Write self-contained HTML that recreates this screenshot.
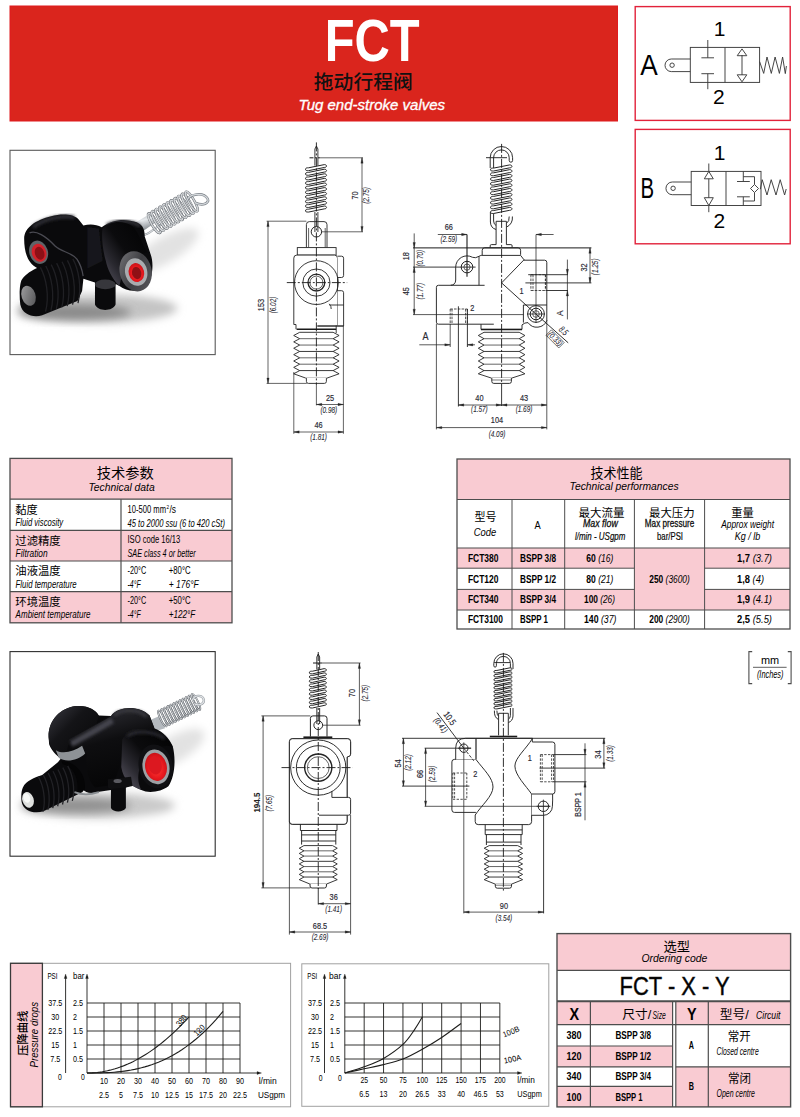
<!DOCTYPE html>
<html lang="zh"><head><meta charset="utf-8"><title>FCT - Tug end-stroke valves</title>
<style>
html,body{margin:0;padding:0;background:#fff}
body{width:800px;height:1117px;overflow:hidden;font-family:'Liberation Sans','Noto Sans CJK SC',sans-serif}
svg{display:block}
svg text{font-family:'Liberation Sans','Noto Sans CJK SC',sans-serif}
</style></head><body>
<svg width="800" height="1117" viewBox="0 0 800 1117">
<g id="p_header">
<rect x="10.00" y="6.00" width="607.50" height="115.00" fill="#da251d"/>
<rect x="10.00" y="6.00" width="607.50" height="115.00" fill="none" stroke="#e01a1f" stroke-width="1"/>
<text x="372.20" y="61.20" font-size="59.5" text-anchor="middle" font-weight="bold" fill="#ffffff" textLength="95.00" lengthAdjust="spacingAndGlyphs">FCT</text>
<text x="363.30" y="88.50" font-size="19.2" text-anchor="middle" font-weight="500" fill="#111" textLength="99.00" lengthAdjust="spacingAndGlyphs">拖动行程阀</text>
<text x="298.60" y="110.00" font-size="15.3" font-style="italic" fill="#ffffff" textLength="146.50" lengthAdjust="spacingAndGlyphs" stroke="#fff" stroke-width="0.35">Tug end-stroke valves</text>
<rect x="635.20" y="6.60" width="155.00" height="113.80" fill="#fff" stroke="#e2223a" stroke-width="1.4"/>
<rect x="635.20" y="129.40" width="155.00" height="114.40" fill="#fff" stroke="#e2223a" stroke-width="1.4"/>
<text x="640.30" y="74.80" font-size="29" textLength="17.50" lengthAdjust="spacingAndGlyphs">A</text>
<text x="719.50" y="35.80" font-size="21" text-anchor="middle">1</text>
<text x="718.80" y="104.20" font-size="21" text-anchor="middle">2</text>
<rect x="690.30" y="47.40" width="69.30" height="35.00" fill="none" stroke="#3c3c3c" stroke-width="0.95"/>
<line x1="725.00" y1="47.40" x2="725.00" y2="82.40" stroke="#3c3c3c" stroke-width="0.95"/>
<line x1="707.80" y1="40.00" x2="707.80" y2="57.80" stroke="#3c3c3c" stroke-width="0.95"/>
<line x1="701.40" y1="57.80" x2="714.00" y2="57.80" stroke="#3c3c3c" stroke-width="0.95"/>
<line x1="707.80" y1="73.70" x2="707.80" y2="89.20" stroke="#3c3c3c" stroke-width="0.95"/>
<line x1="701.40" y1="73.70" x2="714.00" y2="73.70" stroke="#3c3c3c" stroke-width="0.95"/>
<line x1="742.00" y1="55.00" x2="742.00" y2="75.00" stroke="#3c3c3c" stroke-width="0.95"/>
<path d="M742 48.9 L746.8 55.7 L737.2 55.7 Z" fill="none" stroke="#3c3c3c" stroke-width="0.95"/>
<path d="M742 81.8 L746.8 74.8 L737.2 74.8 Z" fill="none" stroke="#3c3c3c" stroke-width="0.95"/>
<path d="M759.6 61.6 L763.7 73.4 L767 57 L771.3 73.4 L775.1 57 L779.4 73.4 L782.6 57 L785.3 73.6 L786.4 66" fill="none" stroke="#3c3c3c" stroke-width="0.95"/>
<path d="M690.3 59 H671.3 A6.3 6.3 0 0 0 671.3 71.6 H690.3" fill="none" stroke="#3c3c3c" stroke-width="0.95"/>
<circle cx="672.10" cy="65.20" r="2.20" fill="none" stroke="#3c3c3c" stroke-width="0.95"/>
<text x="640.60" y="198.40" font-size="29" textLength="13.60" lengthAdjust="spacingAndGlyphs">B</text>
<text x="719.70" y="159.60" font-size="21" text-anchor="middle">1</text>
<text x="719.30" y="227.90" font-size="21" text-anchor="middle">2</text>
<rect x="691.20" y="171.40" width="69.80" height="34.10" fill="none" stroke="#3c3c3c" stroke-width="0.95"/>
<line x1="726.00" y1="171.40" x2="726.00" y2="205.50" stroke="#3c3c3c" stroke-width="0.95"/>
<line x1="708.80" y1="163.50" x2="708.80" y2="212.20" stroke="#3c3c3c" stroke-width="0.95"/>
<path d="M708.8 171.4 L713.3 178.8 L704.3 178.8 Z" fill="#fff" stroke="#3c3c3c" stroke-width="0.95"/>
<path d="M708.8 205.5 L713.3 197.7 L704.3 197.7 Z" fill="#fff" stroke="#3c3c3c" stroke-width="0.95"/>
<line x1="743.30" y1="171.40" x2="743.30" y2="181.50" stroke="#3c3c3c" stroke-width="0.95"/>
<line x1="737.00" y1="181.50" x2="749.80" y2="181.50" stroke="#3c3c3c" stroke-width="0.95"/>
<line x1="743.30" y1="196.80" x2="743.30" y2="205.50" stroke="#3c3c3c" stroke-width="0.95"/>
<line x1="737.00" y1="196.80" x2="749.80" y2="196.80" stroke="#3c3c3c" stroke-width="0.95"/>
<path d="M743.3 176.7 H754.5 V184.5" fill="none" stroke="#3c3c3c" stroke-width="0.95"/>
<path d="M743.3 201 H754.5 V192.5" fill="none" stroke="#3c3c3c" stroke-width="0.95"/>
<path d="M754.5 184.5 L758.5 188.5 L754.5 192.5 L750.5 188.5 Z" fill="none" stroke="#3c3c3c" stroke-width="0.95"/>
<path d="M760.3 189.3 L762.2 179.7 L767 195 L771.2 179.7 L776 195 L780.2 179.7 L784.6 195 L786.2 189" fill="none" stroke="#3c3c3c" stroke-width="0.95"/>
<path d="M691.2 182 H672.3 A6.3 6.3 0 0 0 672.3 194.7 H691.2" fill="none" stroke="#3c3c3c" stroke-width="0.95"/>
<circle cx="673.10" cy="188.30" r="2.20" fill="none" stroke="#3c3c3c" stroke-width="0.95"/>
</g>
<g id="p_tables">
<rect x="10.00" y="458.40" width="222.00" height="164.40" fill="#fff"/>
<rect x="10.00" y="458.40" width="222.00" height="40.80" fill="#f9cbd2"/>
<rect x="10.00" y="530.30" width="222.00" height="30.70" fill="#f9cbd2"/>
<rect x="10.00" y="591.60" width="222.00" height="31.20" fill="#f9cbd2"/>
<line x1="10.00" y1="499.20" x2="232.00" y2="499.20" stroke="#4d4d4d" stroke-width="1.2"/>
<line x1="10.00" y1="530.30" x2="232.00" y2="530.30" stroke="#4d4d4d" stroke-width="1.2"/>
<line x1="10.00" y1="561.00" x2="232.00" y2="561.00" stroke="#4d4d4d" stroke-width="1.2"/>
<line x1="10.00" y1="591.60" x2="232.00" y2="591.60" stroke="#4d4d4d" stroke-width="1.2"/>
<line x1="121.00" y1="499.20" x2="121.00" y2="622.80" stroke="#4d4d4d" stroke-width="1.2"/>
<rect x="10.00" y="458.40" width="222.00" height="164.40" fill="none" stroke="#4d4d4d" stroke-width="1.3"/>
<text x="125.30" y="478.30" font-size="14" text-anchor="middle" font-weight="400" textLength="57.00" lengthAdjust="spacingAndGlyphs">技术参数</text>
<text x="88.40" y="490.60" font-size="11" font-style="italic" textLength="66.30" lengthAdjust="spacingAndGlyphs">Technical data</text>
<text x="15.30" y="513.60" font-size="11.5" font-weight="400" textLength="22.40" lengthAdjust="spacingAndGlyphs">黏度</text>
<text x="15.60" y="526.30" font-size="10" font-style="italic" textLength="47.60" lengthAdjust="spacingAndGlyphs">Fluid viscosity</text>
<text x="15.30" y="544.60" font-size="11.5" font-weight="400" textLength="45.40" lengthAdjust="spacingAndGlyphs">过滤精度</text>
<text x="15.60" y="557.20" font-size="10" font-style="italic" textLength="32.00" lengthAdjust="spacingAndGlyphs">Filtration</text>
<text x="15.30" y="575.00" font-size="11.5" font-weight="400" textLength="45.40" lengthAdjust="spacingAndGlyphs">油液温度</text>
<text x="15.60" y="587.70" font-size="10" font-style="italic" textLength="61.00" lengthAdjust="spacingAndGlyphs">Fluid temperature</text>
<text x="15.30" y="605.60" font-size="11.5" font-weight="400" textLength="45.40" lengthAdjust="spacingAndGlyphs">环境温度</text>
<text x="15.60" y="617.80" font-size="10" font-style="italic" textLength="75.00" lengthAdjust="spacingAndGlyphs">Ambient temperature</text>
<text x="127.50" y="512.80" font-size="10" textLength="38.50" lengthAdjust="spacingAndGlyphs">10-500 mm</text>
<text x="166.40" y="508.80" font-size="6" textLength="2.60" lengthAdjust="spacingAndGlyphs">2</text>
<text x="169.40" y="512.80" font-size="10" textLength="6.60" lengthAdjust="spacingAndGlyphs">/s</text>
<text x="127.50" y="526.80" font-size="10" font-style="italic" textLength="97.50" lengthAdjust="spacingAndGlyphs">45 to 2000 ssu (6 to 420 cSt)</text>
<text x="127.50" y="543.30" font-size="10" textLength="52.80" lengthAdjust="spacingAndGlyphs">ISO code 16/13</text>
<text x="127.50" y="557.20" font-size="10" font-style="italic" textLength="68.20" lengthAdjust="spacingAndGlyphs">SAE class 4 or better</text>
<text x="127.50" y="573.80" font-size="10" textLength="18.70" lengthAdjust="spacingAndGlyphs">-20°C</text>
<text x="168.80" y="573.80" font-size="10" textLength="21.80" lengthAdjust="spacingAndGlyphs">+80°C</text>
<text x="127.50" y="587.80" font-size="10" font-style="italic" textLength="13.20" lengthAdjust="spacingAndGlyphs">-4°F</text>
<text x="168.80" y="587.80" font-size="10" font-style="italic" textLength="30.00" lengthAdjust="spacingAndGlyphs">+ 176°F</text>
<text x="127.50" y="604.30" font-size="10" textLength="18.70" lengthAdjust="spacingAndGlyphs">-20°C</text>
<text x="168.80" y="604.30" font-size="10" textLength="21.80" lengthAdjust="spacingAndGlyphs">+50°C</text>
<text x="127.50" y="617.80" font-size="10" font-style="italic" textLength="13.20" lengthAdjust="spacingAndGlyphs">-4°F</text>
<text x="168.80" y="617.80" font-size="10" font-style="italic" textLength="26.50" lengthAdjust="spacingAndGlyphs">+122°F</text>
<rect x="457.00" y="459.00" width="333.00" height="170.00" fill="#fff"/>
<rect x="457.00" y="459.00" width="333.00" height="40.50" fill="#f9cbd2"/>
<rect x="457.00" y="548.00" width="177.40" height="20.20" fill="#f9cbd2"/>
<rect x="704.60" y="548.00" width="85.40" height="20.20" fill="#f9cbd2"/>
<rect x="457.00" y="589.40" width="177.40" height="20.60" fill="#f9cbd2"/>
<rect x="704.60" y="589.40" width="85.40" height="20.60" fill="#f9cbd2"/>
<rect x="634.40" y="548.00" width="70.20" height="62.00" fill="#f9cbd2"/>
<line x1="457.00" y1="499.50" x2="790.00" y2="499.50" stroke="#4d4d4d" stroke-width="1.2"/>
<line x1="457.00" y1="548.00" x2="790.00" y2="548.00" stroke="#4d4d4d" stroke-width="1.2"/>
<line x1="457.00" y1="568.20" x2="634.40" y2="568.20" stroke="#4d4d4d" stroke-width="1.0"/>
<line x1="704.60" y1="568.20" x2="790.00" y2="568.20" stroke="#4d4d4d" stroke-width="1.0"/>
<line x1="457.00" y1="589.40" x2="634.40" y2="589.40" stroke="#4d4d4d" stroke-width="1.0"/>
<line x1="704.60" y1="589.40" x2="790.00" y2="589.40" stroke="#4d4d4d" stroke-width="1.0"/>
<line x1="457.00" y1="610.00" x2="790.00" y2="610.00" stroke="#4d4d4d" stroke-width="1.0"/>
<line x1="512.00" y1="499.50" x2="512.00" y2="629.00" stroke="#4d4d4d" stroke-width="1.0"/>
<line x1="564.70" y1="499.50" x2="564.70" y2="629.00" stroke="#4d4d4d" stroke-width="1.0"/>
<line x1="634.40" y1="499.50" x2="634.40" y2="629.00" stroke="#4d4d4d" stroke-width="1.0"/>
<line x1="704.60" y1="499.50" x2="704.60" y2="629.00" stroke="#4d4d4d" stroke-width="1.0"/>
<rect x="457.00" y="459.00" width="333.00" height="170.00" fill="none" stroke="#4d4d4d" stroke-width="1.3"/>
<text x="616.60" y="477.60" font-size="13.5" text-anchor="middle" font-weight="400" textLength="52.00" lengthAdjust="spacingAndGlyphs">技术性能</text>
<text x="569.60" y="489.80" font-size="11" font-style="italic" textLength="109.00" lengthAdjust="spacingAndGlyphs">Technical performances</text>
<text x="485.50" y="520.80" font-size="11" text-anchor="middle" font-weight="400" textLength="22.00" lengthAdjust="spacingAndGlyphs">型号</text>
<text x="473.80" y="535.50" font-size="11" font-style="italic" textLength="22.50" lengthAdjust="spacingAndGlyphs">Code</text>
<text x="537.70" y="528.80" font-size="11" text-anchor="middle" textLength="6.20" lengthAdjust="spacingAndGlyphs">A</text>
<text x="601.50" y="517.30" font-size="11.5" text-anchor="middle" font-weight="400" textLength="46.00" lengthAdjust="spacingAndGlyphs">最大流量</text>
<text x="583.00" y="527.20" font-size="11" font-style="italic" textLength="34.80" lengthAdjust="spacingAndGlyphs" stroke="#1d1d1b" stroke-width="0.3">Max flow</text>
<text x="575.00" y="540.40" font-size="11" font-style="italic" textLength="50.40" lengthAdjust="spacingAndGlyphs" stroke="#1d1d1b" stroke-width="0.2">l/min - USgpm</text>
<text x="671.80" y="517.30" font-size="11.5" text-anchor="middle" font-weight="400" textLength="45.50" lengthAdjust="spacingAndGlyphs">最大压力</text>
<text x="644.80" y="527.20" font-size="11" textLength="49.50" lengthAdjust="spacingAndGlyphs" stroke="#1d1d1b" stroke-width="0.3">Max pressure</text>
<text x="657.00" y="540.40" font-size="11" textLength="26.00" lengthAdjust="spacingAndGlyphs" stroke="#1d1d1b" stroke-width="0.2">bar/PSI</text>
<text x="742.60" y="516.60" font-size="11.5" text-anchor="middle" font-weight="400" textLength="22.50" lengthAdjust="spacingAndGlyphs">重量</text>
<text x="721.30" y="527.60" font-size="10" font-style="italic" textLength="52.70" lengthAdjust="spacingAndGlyphs">Approx weight</text>
<text x="734.80" y="540.20" font-size="10" font-style="italic" textLength="25.60" lengthAdjust="spacingAndGlyphs">Kg / lb</text>
<text x="467.90" y="561.80" font-size="10" font-weight="bold" textLength="30.60" lengthAdjust="spacingAndGlyphs">FCT380</text>
<text x="520.00" y="561.80" font-size="10" font-weight="bold" textLength="36.00" lengthAdjust="spacingAndGlyphs">BSPP 3/8</text>
<text x="586.3" y="561.8" font-size="10" textLength="27" lengthAdjust="spacingAndGlyphs"><tspan font-weight="bold">60</tspan><tspan font-style="italic"> (16)</tspan></text>
<text x="737" y="561.8" font-size="10" textLength="35" lengthAdjust="spacingAndGlyphs"><tspan font-weight="bold">1,7</tspan><tspan font-style="italic"> (3.7)</tspan></text>
<text x="467.90" y="582.60" font-size="10" font-weight="bold" textLength="30.60" lengthAdjust="spacingAndGlyphs">FCT120</text>
<text x="520.00" y="582.60" font-size="10" font-weight="bold" textLength="36.00" lengthAdjust="spacingAndGlyphs">BSPP 1/2</text>
<text x="586.3" y="582.6" font-size="10" textLength="27" lengthAdjust="spacingAndGlyphs"><tspan font-weight="bold">80</tspan><tspan font-style="italic"> (21)</tspan></text>
<text x="737" y="582.6" font-size="10" textLength="27" lengthAdjust="spacingAndGlyphs"><tspan font-weight="bold">1,8</tspan><tspan font-style="italic"> (4)</tspan></text>
<text x="467.90" y="603.40" font-size="10" font-weight="bold" textLength="30.60" lengthAdjust="spacingAndGlyphs">FCT340</text>
<text x="520.00" y="603.40" font-size="10" font-weight="bold" textLength="36.00" lengthAdjust="spacingAndGlyphs">BSPP 3/4</text>
<text x="584" y="603.4" font-size="10" textLength="31" lengthAdjust="spacingAndGlyphs"><tspan font-weight="bold">100</tspan><tspan font-style="italic"> (26)</tspan></text>
<text x="737" y="603.4" font-size="10" textLength="35" lengthAdjust="spacingAndGlyphs"><tspan font-weight="bold">1,9</tspan><tspan font-style="italic"> (4.1)</tspan></text>
<text x="467.90" y="623.20" font-size="10" font-weight="bold" textLength="35.10" lengthAdjust="spacingAndGlyphs">FCT3100</text>
<text x="520.00" y="623.20" font-size="10" font-weight="bold" textLength="28.00" lengthAdjust="spacingAndGlyphs">BSPP 1</text>
<text x="584" y="623.2" font-size="10" textLength="32.4" lengthAdjust="spacingAndGlyphs"><tspan font-weight="bold">140</tspan><tspan font-style="italic"> (37)</tspan></text>
<text x="737" y="623.2" font-size="10" textLength="35" lengthAdjust="spacingAndGlyphs"><tspan font-weight="bold">2,5</tspan><tspan font-style="italic"> (5.5)</tspan></text>
<text x="649.3" y="582.6" font-size="10" textLength="40.5" lengthAdjust="spacingAndGlyphs"><tspan font-weight="bold">250</tspan><tspan font-style="italic"> (3600)</tspan></text>
<text x="649.3" y="623.2" font-size="10" textLength="40.5" lengthAdjust="spacingAndGlyphs"><tspan font-weight="bold">200</tspan><tspan font-style="italic"> (2900)</tspan></text>
<path d="M752.2 651.6 H748.9 V683.6 H752.2" fill="none" stroke="#4d4d4d" stroke-width="1.1"/>
<path d="M787.8 651.6 H791.1 V683.6 H787.8" fill="none" stroke="#4d4d4d" stroke-width="1.1"/>
<line x1="753.00" y1="667.30" x2="786.60" y2="667.30" stroke="#4d4d4d" stroke-width="0.9"/>
<text x="760.90" y="664.00" font-size="10.5" textLength="18.20" lengthAdjust="spacingAndGlyphs">mm</text>
<text x="756.90" y="678.00" font-size="10" font-style="italic" textLength="26.60" lengthAdjust="spacingAndGlyphs">(Inches)</text>
<rect x="557.00" y="933.60" width="233.60" height="173.30" fill="#fff"/>
<rect x="557.00" y="933.60" width="233.60" height="36.80" fill="#f9cbd2"/>
<rect x="557.00" y="1001.20" width="233.60" height="23.40" fill="#f9cbd2"/>
<rect x="557.00" y="1046.00" width="115.60" height="20.90" fill="#f9cbd2"/>
<rect x="557.00" y="1086.40" width="115.60" height="20.50" fill="#f9cbd2"/>
<rect x="675.80" y="1066.90" width="114.80" height="40.00" fill="#f9cbd2"/>
<rect x="672.60" y="1001.20" width="3.20" height="105.70" fill="#fff"/>
<line x1="557.00" y1="970.40" x2="790.60" y2="970.40" stroke="#4d4d4d" stroke-width="1.2"/>
<line x1="557.00" y1="1001.20" x2="790.60" y2="1001.20" stroke="#4d4d4d" stroke-width="2"/>
<line x1="557.00" y1="1024.60" x2="790.60" y2="1024.60" stroke="#4d4d4d" stroke-width="1.2"/>
<line x1="557.00" y1="1046.00" x2="672.60" y2="1046.00" stroke="#4d4d4d" stroke-width="1.2"/>
<line x1="557.00" y1="1066.90" x2="672.60" y2="1066.90" stroke="#4d4d4d" stroke-width="1.2"/>
<line x1="557.00" y1="1086.40" x2="672.60" y2="1086.40" stroke="#4d4d4d" stroke-width="1.2"/>
<line x1="675.80" y1="1066.90" x2="790.60" y2="1066.90" stroke="#4d4d4d" stroke-width="1.2"/>
<line x1="590.40" y1="1001.20" x2="590.40" y2="1106.90" stroke="#4d4d4d" stroke-width="1.2"/>
<line x1="672.60" y1="1001.20" x2="672.60" y2="1106.90" stroke="#4d4d4d" stroke-width="1.2"/>
<line x1="675.80" y1="1001.20" x2="675.80" y2="1106.90" stroke="#4d4d4d" stroke-width="1.2"/>
<line x1="708.30" y1="1001.20" x2="708.30" y2="1106.90" stroke="#4d4d4d" stroke-width="1.2"/>
<rect x="557.00" y="933.60" width="233.60" height="173.30" fill="none" stroke="#4d4d4d" stroke-width="1.4"/>
<text x="676.80" y="951.00" font-size="13" text-anchor="middle" font-weight="400" textLength="26.50" lengthAdjust="spacingAndGlyphs">选型</text>
<text x="641.40" y="962.30" font-size="11" font-style="italic" textLength="66.00" lengthAdjust="spacingAndGlyphs">Ordering code</text>
<text x="619.60" y="995.40" font-size="26.4" textLength="110.00" lengthAdjust="spacingAndGlyphs" stroke="#1d1d1b" stroke-width="0.5">FCT - X - Y</text>
<text x="574.40" y="1020.20" font-size="16" text-anchor="middle" font-weight="bold" textLength="9.60" lengthAdjust="spacingAndGlyphs">X</text>
<text x="691.80" y="1020.20" font-size="16" text-anchor="middle" font-weight="bold" textLength="9.60" lengthAdjust="spacingAndGlyphs">Y</text>
<text x="622.30" y="1018.80" font-size="12" font-weight="400" textLength="29.00" lengthAdjust="spacingAndGlyphs">尺寸/</text>
<text x="652.60" y="1018.60" font-size="11" font-style="italic" textLength="13.20" lengthAdjust="spacingAndGlyphs">Size</text>
<text x="719.70" y="1018.80" font-size="12" font-weight="400" textLength="29.00" lengthAdjust="spacingAndGlyphs">型号/</text>
<text x="756.00" y="1018.60" font-size="11" font-style="italic" textLength="24.50" lengthAdjust="spacingAndGlyphs">Circuit</text>
<text x="566.60" y="1039.00" font-size="10.5" font-weight="bold" textLength="15.00" lengthAdjust="spacingAndGlyphs">380</text>
<text x="615.40" y="1039.00" font-size="10.5" font-weight="bold" textLength="35.70" lengthAdjust="spacingAndGlyphs">BSPP 3/8</text>
<text x="566.60" y="1059.60" font-size="10.5" font-weight="bold" textLength="15.00" lengthAdjust="spacingAndGlyphs">120</text>
<text x="615.40" y="1059.60" font-size="10.5" font-weight="bold" textLength="35.70" lengthAdjust="spacingAndGlyphs">BSPP 1/2</text>
<text x="566.60" y="1079.80" font-size="10.5" font-weight="bold" textLength="15.00" lengthAdjust="spacingAndGlyphs">340</text>
<text x="615.40" y="1079.80" font-size="10.5" font-weight="bold" textLength="35.70" lengthAdjust="spacingAndGlyphs">BSPP 3/4</text>
<text x="566.60" y="1100.60" font-size="10.5" font-weight="bold" textLength="15.00" lengthAdjust="spacingAndGlyphs">100</text>
<text x="615.40" y="1100.60" font-size="10.5" font-weight="bold" textLength="27.00" lengthAdjust="spacingAndGlyphs">BSPP 1</text>
<text x="691.40" y="1048.80" font-size="10.5" text-anchor="middle" font-weight="bold" textLength="5.20" lengthAdjust="spacingAndGlyphs">A</text>
<text x="691.40" y="1090.20" font-size="10.5" text-anchor="middle" font-weight="bold" textLength="5.20" lengthAdjust="spacingAndGlyphs">B</text>
<text x="739.20" y="1040.60" font-size="12" text-anchor="middle" font-weight="400" textLength="23.00" lengthAdjust="spacingAndGlyphs">常开</text>
<text x="716.50" y="1055.00" font-size="11.5" font-style="italic" textLength="42.20" lengthAdjust="spacingAndGlyphs">Closed centre</text>
<text x="739.60" y="1082.60" font-size="12" text-anchor="middle" font-weight="400" textLength="23.00" lengthAdjust="spacingAndGlyphs">常闭</text>
<text x="716.50" y="1097.00" font-size="11.5" font-style="italic" textLength="38.50" lengthAdjust="spacingAndGlyphs">Open centre</text>
</g>
<g id="p_graphs">
<rect x="10.50" y="963.30" width="280.10" height="143.50" fill="#fff"/>
<rect x="10.50" y="963.30" width="31.90" height="143.50" fill="#f9cbd2"/>
<rect x="10.50" y="963.30" width="280.10" height="143.50" fill="none" stroke="#a0a0a0" stroke-width="1.0"/>
<rect x="10.50" y="963.30" width="31.90" height="143.50" fill="none" stroke="#3a3a3a" stroke-width="1.3"/>
<text x="26.80" y="1033.20" font-size="11.5" text-anchor="middle" font-weight="500" textLength="45.00" lengthAdjust="spacingAndGlyphs" transform="rotate(-90 26.80 1033.20)">压降曲线</text>
<text x="38.00" y="1034.70" font-size="11" text-anchor="middle" font-style="italic" textLength="65.50" lengthAdjust="spacingAndGlyphs" transform="rotate(-90 38.00 1034.70)">Pressure drops</text>
<line x1="87.00" y1="1003.00" x2="87.00" y2="1073.00" stroke="#1d1d1b" stroke-width="0.9"/>
<line x1="104.00" y1="1003.00" x2="104.00" y2="1073.00" stroke="#1d1d1b" stroke-width="0.9"/>
<line x1="121.00" y1="1003.00" x2="121.00" y2="1073.00" stroke="#1d1d1b" stroke-width="0.9"/>
<line x1="138.00" y1="1003.00" x2="138.00" y2="1073.00" stroke="#1d1d1b" stroke-width="0.9"/>
<line x1="155.00" y1="1003.00" x2="155.00" y2="1073.00" stroke="#1d1d1b" stroke-width="0.9"/>
<line x1="172.00" y1="1003.00" x2="172.00" y2="1073.00" stroke="#1d1d1b" stroke-width="0.9"/>
<line x1="189.00" y1="1003.00" x2="189.00" y2="1073.00" stroke="#1d1d1b" stroke-width="0.9"/>
<line x1="206.00" y1="1003.00" x2="206.00" y2="1073.00" stroke="#1d1d1b" stroke-width="0.9"/>
<line x1="223.00" y1="1003.00" x2="223.00" y2="1073.00" stroke="#1d1d1b" stroke-width="0.9"/>
<line x1="240.00" y1="1003.00" x2="240.00" y2="1073.00" stroke="#1d1d1b" stroke-width="0.9"/>
<line x1="87.00" y1="1073.00" x2="240.00" y2="1073.00" stroke="#1d1d1b" stroke-width="0.9"/>
<line x1="87.00" y1="1059.00" x2="240.00" y2="1059.00" stroke="#1d1d1b" stroke-width="0.9"/>
<line x1="87.00" y1="1045.00" x2="240.00" y2="1045.00" stroke="#1d1d1b" stroke-width="0.9"/>
<line x1="87.00" y1="1031.00" x2="240.00" y2="1031.00" stroke="#1d1d1b" stroke-width="0.9"/>
<line x1="87.00" y1="1017.00" x2="240.00" y2="1017.00" stroke="#1d1d1b" stroke-width="0.9"/>
<line x1="87.00" y1="1003.00" x2="240.00" y2="1003.00" stroke="#1d1d1b" stroke-width="0.9"/>
<line x1="65.60" y1="976.00" x2="65.60" y2="1073.00" stroke="#1d1d1b" stroke-width="0.9"/>
<path d="M65.60 974.00 L64.20 978.50 L67.00 978.50 Z" fill="#1d1d1b" stroke="#1d1d1b" stroke-width="0.3"/>
<line x1="87.00" y1="976.00" x2="87.00" y2="1003.00" stroke="#1d1d1b" stroke-width="0.9"/>
<path d="M87.00 974.00 L85.60 978.50 L88.40 978.50 Z" fill="#1d1d1b" stroke="#1d1d1b" stroke-width="0.3"/>
<line x1="240.00" y1="1073.00" x2="259.00" y2="1073.00" stroke="#1d1d1b" stroke-width="0.9"/>
<path d="M261.50 1073.00 L257.00 1071.60 L257.00 1074.40 Z" fill="#1d1d1b" stroke="#1d1d1b" stroke-width="0.3"/>
<text x="47.40" y="978.80" font-size="9" textLength="10.20" lengthAdjust="spacingAndGlyphs">PSI</text>
<text x="73.00" y="978.80" font-size="9" textLength="11.40" lengthAdjust="spacingAndGlyphs">bar</text>
<text x="55.30" y="1062.20" font-size="9" text-anchor="middle" textLength="10.05" lengthAdjust="spacingAndGlyphs">7.5</text>
<text x="73.00" y="1062.20" font-size="9" textLength="10.05" lengthAdjust="spacingAndGlyphs">0.5</text>
<text x="55.30" y="1048.20" font-size="9" text-anchor="middle" textLength="7.90" lengthAdjust="spacingAndGlyphs">15</text>
<text x="73.00" y="1048.20" font-size="9" textLength="3.95" lengthAdjust="spacingAndGlyphs">1</text>
<text x="55.30" y="1034.20" font-size="9" text-anchor="middle" textLength="14.00" lengthAdjust="spacingAndGlyphs">22.5</text>
<text x="73.00" y="1034.20" font-size="9" textLength="10.05" lengthAdjust="spacingAndGlyphs">1.5</text>
<text x="55.30" y="1020.20" font-size="9" text-anchor="middle" textLength="7.90" lengthAdjust="spacingAndGlyphs">30</text>
<text x="73.00" y="1020.20" font-size="9" textLength="3.95" lengthAdjust="spacingAndGlyphs">2</text>
<text x="55.30" y="1006.20" font-size="9" text-anchor="middle" textLength="14.00" lengthAdjust="spacingAndGlyphs">37.5</text>
<text x="73.00" y="1006.20" font-size="9" textLength="10.05" lengthAdjust="spacingAndGlyphs">2.5</text>
<text x="60.00" y="1080.00" font-size="9" text-anchor="middle" textLength="3.80" lengthAdjust="spacingAndGlyphs">0</text>
<text x="83.00" y="1080.00" font-size="9" text-anchor="middle" textLength="3.80" lengthAdjust="spacingAndGlyphs">0</text>
<text x="104.00" y="1083.80" font-size="9" text-anchor="middle" textLength="8.00" lengthAdjust="spacingAndGlyphs">10</text>
<text x="104.00" y="1097.60" font-size="9" text-anchor="middle" textLength="10.05" lengthAdjust="spacingAndGlyphs">2.5</text>
<text x="121.00" y="1083.80" font-size="9" text-anchor="middle" textLength="8.00" lengthAdjust="spacingAndGlyphs">20</text>
<text x="121.00" y="1097.60" font-size="9" text-anchor="middle" textLength="3.95" lengthAdjust="spacingAndGlyphs">5</text>
<text x="138.00" y="1083.80" font-size="9" text-anchor="middle" textLength="8.00" lengthAdjust="spacingAndGlyphs">30</text>
<text x="138.00" y="1097.60" font-size="9" text-anchor="middle" textLength="10.05" lengthAdjust="spacingAndGlyphs">7.5</text>
<text x="155.00" y="1083.80" font-size="9" text-anchor="middle" textLength="8.00" lengthAdjust="spacingAndGlyphs">40</text>
<text x="155.00" y="1097.60" font-size="9" text-anchor="middle" textLength="7.90" lengthAdjust="spacingAndGlyphs">10</text>
<text x="172.00" y="1083.80" font-size="9" text-anchor="middle" textLength="8.00" lengthAdjust="spacingAndGlyphs">50</text>
<text x="172.00" y="1097.60" font-size="9" text-anchor="middle" textLength="14.00" lengthAdjust="spacingAndGlyphs">12.5</text>
<text x="189.00" y="1083.80" font-size="9" text-anchor="middle" textLength="8.00" lengthAdjust="spacingAndGlyphs">60</text>
<text x="189.00" y="1097.60" font-size="9" text-anchor="middle" textLength="7.90" lengthAdjust="spacingAndGlyphs">15</text>
<text x="206.00" y="1083.80" font-size="9" text-anchor="middle" textLength="8.00" lengthAdjust="spacingAndGlyphs">70</text>
<text x="206.00" y="1097.60" font-size="9" text-anchor="middle" textLength="14.00" lengthAdjust="spacingAndGlyphs">17.5</text>
<text x="223.00" y="1083.80" font-size="9" text-anchor="middle" textLength="8.00" lengthAdjust="spacingAndGlyphs">80</text>
<text x="223.00" y="1097.60" font-size="9" text-anchor="middle" textLength="7.90" lengthAdjust="spacingAndGlyphs">20</text>
<text x="240.00" y="1083.80" font-size="9" text-anchor="middle" textLength="8.00" lengthAdjust="spacingAndGlyphs">90</text>
<text x="240.00" y="1097.60" font-size="9" text-anchor="middle" textLength="14.00" lengthAdjust="spacingAndGlyphs">22.5</text>
<text x="258.70" y="1083.80" font-size="9.5" textLength="18.00" lengthAdjust="spacingAndGlyphs">l/min</text>
<text x="258.00" y="1097.60" font-size="9.5" textLength="27.00" lengthAdjust="spacingAndGlyphs">USgpm</text>
<path d="M87.00 1073.00 L89.55 1072.96 L92.10 1072.86 L94.65 1072.68 L97.20 1072.44 L99.75 1072.12 L102.30 1071.74 L104.85 1071.29 L107.40 1070.76 L109.95 1070.16 L112.50 1069.50 L115.05 1068.77 L117.60 1067.96 L120.15 1067.09 L122.70 1066.14 L125.25 1065.12 L127.80 1064.04 L130.35 1062.88 L132.90 1061.66 L135.45 1060.37 L138.00 1059.00 L140.55 1057.57 L143.10 1056.06 L145.65 1054.48 L148.20 1052.84 L150.75 1051.12 L153.30 1049.34 L155.85 1047.48 L158.40 1045.56 L160.95 1043.57 L163.50 1041.50 L166.05 1039.37 L168.60 1037.16 L171.15 1034.88 L173.70 1032.54 L176.25 1030.12 L178.80 1027.64 L181.35 1025.09 L183.90 1022.46 L186.45 1019.76 L189.00 1017.00" fill="none" stroke="#1d1d1b" stroke-width="1.1"/>
<path d="M87.00 1073.00 L90.40 1073.00 L93.80 1072.98 L97.20 1072.94 L100.60 1072.88 L104.00 1072.78 L107.40 1072.63 L110.80 1072.44 L114.20 1072.20 L117.60 1071.90 L121.00 1071.54 L124.40 1071.11 L127.80 1070.61 L131.20 1070.04 L134.60 1069.38 L138.00 1068.64 L141.40 1067.81 L144.80 1066.89 L148.20 1065.87 L151.60 1064.75 L155.00 1063.52 L158.40 1062.19 L161.80 1060.74 L165.20 1059.17 L168.60 1057.49 L172.00 1055.68 L175.40 1053.75 L178.80 1051.68 L182.20 1049.48 L185.60 1047.15 L189.00 1044.67 L192.40 1042.05 L195.80 1039.28 L199.20 1036.36 L202.60 1033.28 L206.00 1030.05 L209.40 1026.65 L212.80 1023.09 L216.20 1019.37 L219.60 1015.47 L223.00 1011.40" fill="none" stroke="#1d1d1b" stroke-width="1.1"/>
<text x="180.00" y="1027.00" font-size="8.5" textLength="12.00" lengthAdjust="spacingAndGlyphs" transform="rotate(-52 180.00 1027.00)">380</text>
<text x="197.00" y="1036.50" font-size="8.5" textLength="12.00" lengthAdjust="spacingAndGlyphs" transform="rotate(-45 197.00 1036.50)">120</text>
<rect x="301.80" y="963.80" width="247.00" height="142.50" fill="#fff" stroke="#a0a0a0" stroke-width="1.0"/>
<line x1="344.80" y1="1003.00" x2="344.80" y2="1073.00" stroke="#1d1d1b" stroke-width="0.9"/>
<line x1="364.18" y1="1003.00" x2="364.18" y2="1073.00" stroke="#1d1d1b" stroke-width="0.9"/>
<line x1="383.56" y1="1003.00" x2="383.56" y2="1073.00" stroke="#1d1d1b" stroke-width="0.9"/>
<line x1="402.94" y1="1003.00" x2="402.94" y2="1073.00" stroke="#1d1d1b" stroke-width="0.9"/>
<line x1="422.32" y1="1003.00" x2="422.32" y2="1073.00" stroke="#1d1d1b" stroke-width="0.9"/>
<line x1="441.70" y1="1003.00" x2="441.70" y2="1073.00" stroke="#1d1d1b" stroke-width="0.9"/>
<line x1="461.08" y1="1003.00" x2="461.08" y2="1073.00" stroke="#1d1d1b" stroke-width="0.9"/>
<line x1="480.46" y1="1003.00" x2="480.46" y2="1073.00" stroke="#1d1d1b" stroke-width="0.9"/>
<line x1="499.84" y1="1003.00" x2="499.84" y2="1073.00" stroke="#1d1d1b" stroke-width="0.9"/>
<line x1="344.80" y1="1073.00" x2="499.84" y2="1073.00" stroke="#1d1d1b" stroke-width="0.9"/>
<line x1="344.80" y1="1059.00" x2="499.84" y2="1059.00" stroke="#1d1d1b" stroke-width="0.9"/>
<line x1="344.80" y1="1045.00" x2="499.84" y2="1045.00" stroke="#1d1d1b" stroke-width="0.9"/>
<line x1="344.80" y1="1031.00" x2="499.84" y2="1031.00" stroke="#1d1d1b" stroke-width="0.9"/>
<line x1="344.80" y1="1017.00" x2="499.84" y2="1017.00" stroke="#1d1d1b" stroke-width="0.9"/>
<line x1="344.80" y1="1003.00" x2="499.84" y2="1003.00" stroke="#1d1d1b" stroke-width="0.9"/>
<line x1="324.50" y1="976.00" x2="324.50" y2="1073.00" stroke="#1d1d1b" stroke-width="0.9"/>
<path d="M324.50 974.00 L323.10 978.50 L325.90 978.50 Z" fill="#1d1d1b" stroke="#1d1d1b" stroke-width="0.3"/>
<line x1="344.80" y1="976.00" x2="344.80" y2="1003.00" stroke="#1d1d1b" stroke-width="0.9"/>
<path d="M344.80 974.00 L343.40 978.50 L346.20 978.50 Z" fill="#1d1d1b" stroke="#1d1d1b" stroke-width="0.3"/>
<line x1="499.84" y1="1073.00" x2="519.50" y2="1073.00" stroke="#1d1d1b" stroke-width="0.9"/>
<path d="M522.00 1073.00 L517.50 1071.60 L517.50 1074.40 Z" fill="#1d1d1b" stroke="#1d1d1b" stroke-width="0.3"/>
<text x="307.30" y="979.20" font-size="9" textLength="10.00" lengthAdjust="spacingAndGlyphs">PSI</text>
<text x="329.00" y="979.20" font-size="9" textLength="12.30" lengthAdjust="spacingAndGlyphs">bar</text>
<text x="315.00" y="1062.20" font-size="9" text-anchor="middle" textLength="10.05" lengthAdjust="spacingAndGlyphs">7.5</text>
<text x="330.00" y="1062.20" font-size="9" textLength="10.05" lengthAdjust="spacingAndGlyphs">0.5</text>
<text x="315.00" y="1048.20" font-size="9" text-anchor="middle" textLength="7.90" lengthAdjust="spacingAndGlyphs">15</text>
<text x="330.00" y="1048.20" font-size="9" textLength="3.95" lengthAdjust="spacingAndGlyphs">1</text>
<text x="315.00" y="1034.20" font-size="9" text-anchor="middle" textLength="14.00" lengthAdjust="spacingAndGlyphs">22.5</text>
<text x="330.00" y="1034.20" font-size="9" textLength="10.05" lengthAdjust="spacingAndGlyphs">1.5</text>
<text x="315.00" y="1020.20" font-size="9" text-anchor="middle" textLength="7.90" lengthAdjust="spacingAndGlyphs">30</text>
<text x="330.00" y="1020.20" font-size="9" textLength="3.95" lengthAdjust="spacingAndGlyphs">2</text>
<text x="315.00" y="1006.20" font-size="9" text-anchor="middle" textLength="14.00" lengthAdjust="spacingAndGlyphs">37.5</text>
<text x="330.00" y="1006.20" font-size="9" textLength="10.05" lengthAdjust="spacingAndGlyphs">2.5</text>
<text x="320.60" y="1081.00" font-size="9" text-anchor="middle" textLength="3.80" lengthAdjust="spacingAndGlyphs">0</text>
<text x="339.80" y="1081.00" font-size="9" text-anchor="middle" textLength="3.80" lengthAdjust="spacingAndGlyphs">0</text>
<text x="364.18" y="1083.00" font-size="9" text-anchor="middle" textLength="7.60" lengthAdjust="spacingAndGlyphs">25</text>
<text x="364.18" y="1097.00" font-size="9" text-anchor="middle" textLength="10.05" lengthAdjust="spacingAndGlyphs">6.5</text>
<text x="383.56" y="1083.00" font-size="9" text-anchor="middle" textLength="7.60" lengthAdjust="spacingAndGlyphs">50</text>
<text x="383.56" y="1097.00" font-size="9" text-anchor="middle" textLength="7.90" lengthAdjust="spacingAndGlyphs">13</text>
<text x="402.94" y="1083.00" font-size="9" text-anchor="middle" textLength="7.60" lengthAdjust="spacingAndGlyphs">75</text>
<text x="402.94" y="1097.00" font-size="9" text-anchor="middle" textLength="7.90" lengthAdjust="spacingAndGlyphs">20</text>
<text x="422.32" y="1083.00" font-size="9" text-anchor="middle" textLength="11.40" lengthAdjust="spacingAndGlyphs">100</text>
<text x="422.32" y="1097.00" font-size="9" text-anchor="middle" textLength="14.00" lengthAdjust="spacingAndGlyphs">26.5</text>
<text x="441.70" y="1083.00" font-size="9" text-anchor="middle" textLength="11.40" lengthAdjust="spacingAndGlyphs">125</text>
<text x="441.70" y="1097.00" font-size="9" text-anchor="middle" textLength="7.90" lengthAdjust="spacingAndGlyphs">33</text>
<text x="461.08" y="1083.00" font-size="9" text-anchor="middle" textLength="11.40" lengthAdjust="spacingAndGlyphs">150</text>
<text x="461.08" y="1097.00" font-size="9" text-anchor="middle" textLength="7.90" lengthAdjust="spacingAndGlyphs">40</text>
<text x="480.46" y="1083.00" font-size="9" text-anchor="middle" textLength="11.40" lengthAdjust="spacingAndGlyphs">175</text>
<text x="480.46" y="1097.00" font-size="9" text-anchor="middle" textLength="14.00" lengthAdjust="spacingAndGlyphs">46.5</text>
<text x="499.84" y="1083.00" font-size="9" text-anchor="middle" textLength="11.40" lengthAdjust="spacingAndGlyphs">200</text>
<text x="499.84" y="1097.00" font-size="9" text-anchor="middle" textLength="7.90" lengthAdjust="spacingAndGlyphs">53</text>
<text x="517.30" y="1083.40" font-size="9.5" textLength="17.50" lengthAdjust="spacingAndGlyphs">l/min</text>
<text x="517.30" y="1097.20" font-size="9.5" textLength="24.50" lengthAdjust="spacingAndGlyphs">USgpm</text>
<path d="M344.80 1073.00 C348.03 1071.97 357.72 1069.27 364.18 1066.84 C370.64 1064.41 377.10 1062.17 383.56 1058.44 C390.02 1054.71 397.77 1049.25 402.94 1044.44 C408.11 1039.63 411.34 1034.17 414.57 1029.60 C417.80 1025.03 421.03 1019.10 422.32 1017.00" fill="none" stroke="#1d1d1b" stroke-width="1.1"/>
<path d="M344.80 1073.00 C348.03 1072.30 357.72 1070.20 364.18 1068.80 C370.64 1067.40 377.10 1066.23 383.56 1064.60 C390.02 1062.97 396.48 1061.57 402.94 1059.00 C409.40 1056.43 415.86 1052.79 422.32 1049.20 C428.78 1045.61 435.24 1041.73 441.70 1037.44 C448.16 1033.15 457.85 1025.77 461.08 1023.44" fill="none" stroke="#1d1d1b" stroke-width="1.1"/>
<text x="504.00" y="1037.50" font-size="8" textLength="17.50" lengthAdjust="spacingAndGlyphs" transform="rotate(-22 504.00 1037.50)">100B</text>
<text x="504.50" y="1063.50" font-size="8" textLength="17.50" lengthAdjust="spacingAndGlyphs" transform="rotate(-12 504.50 1063.50)">100A</text>
</g>
<g id="p_draw1">
<path d="M314.9 165.6 V149 L316.4 146 L317.9 149 V165.6" fill="#fff" stroke="#242424" stroke-width="0.9"/>
<path d="M314.9 212 V232 M317.9 212 V232" fill="none" stroke="#242424" stroke-width="0.9"/>
<path d="M305.50 169.53 C305.50 167.53 307.50 167.81 308.50 167.81 L324.30 164.61 C327.30 164.61 327.30 167.47 324.30 167.47 L308.50 170.67 C306.50 170.67 305.50 170.38 305.50 169.53 Z" fill="#fff" stroke="#242424" stroke-width="1.0"/>
<path d="M305.50 174.13 C305.50 172.13 307.50 172.41 308.50 172.41 L324.30 169.21 C327.30 169.21 327.30 172.07 324.30 172.07 L308.50 175.27 C306.50 175.27 305.50 174.98 305.50 174.13 Z" fill="#fff" stroke="#242424" stroke-width="1.0"/>
<path d="M305.50 178.73 C305.50 176.73 307.50 177.01 308.50 177.01 L324.30 173.81 C327.30 173.81 327.30 176.67 324.30 176.67 L308.50 179.87 C306.50 179.87 305.50 179.58 305.50 178.73 Z" fill="#fff" stroke="#242424" stroke-width="1.0"/>
<path d="M305.50 183.33 C305.50 181.33 307.50 181.61 308.50 181.61 L324.30 178.41 C327.30 178.41 327.30 181.27 324.30 181.27 L308.50 184.47 C306.50 184.47 305.50 184.18 305.50 183.33 Z" fill="#fff" stroke="#242424" stroke-width="1.0"/>
<path d="M305.50 187.93 C305.50 185.93 307.50 186.21 308.50 186.21 L324.30 183.01 C327.30 183.01 327.30 185.87 324.30 185.87 L308.50 189.07 C306.50 189.07 305.50 188.78 305.50 187.93 Z" fill="#fff" stroke="#242424" stroke-width="1.0"/>
<path d="M305.50 192.53 C305.50 190.53 307.50 190.81 308.50 190.81 L324.30 187.61 C327.30 187.61 327.30 190.47 324.30 190.47 L308.50 193.67 C306.50 193.67 305.50 193.38 305.50 192.53 Z" fill="#fff" stroke="#242424" stroke-width="1.0"/>
<path d="M305.50 197.13 C305.50 195.13 307.50 195.41 308.50 195.41 L324.30 192.21 C327.30 192.21 327.30 195.07 324.30 195.07 L308.50 198.27 C306.50 198.27 305.50 197.98 305.50 197.13 Z" fill="#fff" stroke="#242424" stroke-width="1.0"/>
<path d="M305.50 201.73 C305.50 199.73 307.50 200.01 308.50 200.01 L324.30 196.81 C327.30 196.81 327.30 199.67 324.30 199.67 L308.50 202.87 C306.50 202.87 305.50 202.58 305.50 201.73 Z" fill="#fff" stroke="#242424" stroke-width="1.0"/>
<path d="M305.50 206.33 C305.50 204.33 307.50 204.61 308.50 204.61 L324.30 201.41 C327.30 201.41 327.30 204.27 324.30 204.27 L308.50 207.47 C306.50 207.47 305.50 207.18 305.50 206.33 Z" fill="#fff" stroke="#242424" stroke-width="1.0"/>
<path d="M305.50 210.93 C305.50 208.93 307.50 209.21 308.50 209.21 L324.30 206.01 C327.30 206.01 327.30 208.87 324.30 208.87 L308.50 212.07 C306.50 212.07 305.50 211.78 305.50 210.93 Z" fill="#fff" stroke="#242424" stroke-width="1.0"/>
<path d="M306.4 247.6 V224.6 Q306.4 221.6 309.4 221.6 H324 Q327 221.6 327 224.6 V247.6" fill="#fff" stroke="#242424" stroke-width="0.9"/>
<path d="M308.6 247.6 V228 M325.2 247.6 V228" fill="none" stroke="#242424" stroke-width="0.7200000000000001"/>
<circle cx="316.40" cy="231.80" r="5.20" fill="#fff" stroke="#242424" stroke-width="1.0"/>
<path d="M314.9 222 V232 M317.9 222 V232" fill="none" stroke="#242424" stroke-width="0.9"/>
<rect x="297.30" y="247.60" width="38.80" height="7.50" fill="#fff" stroke="#242424" stroke-width="0.9"/>
<path d="M293.8 324.5 V258.1 Q293.8 255.1 296.8 255.1 H334.5 Q337.5 255.1 337.5 258.1 V326 H317.4" fill="#fff" stroke="#242424" stroke-width="0.9"/>
<path d="M337.5 256.2 H341.6 Q343.6 256.2 343.6 258.2 V275.5 Q343.6 277.5 341.6 277.5 H337.5" fill="#fff" stroke="#242424" stroke-width="0.9"/>
<path d="M337.5 290.7 H341.6 Q343.6 290.7 343.6 292.7 V326 H337.5" fill="#fff" stroke="#242424" stroke-width="0.9"/>
<line x1="329.60" y1="305.00" x2="343.60" y2="305.00" stroke="#242424" stroke-width="0.9"/>
<path d="M329.2 303.8 Q331.5 306.5 331.2 309" fill="none" stroke="#242424" stroke-width="0.9"/>
<path d="M293.8 324.5 H296 V329.2" fill="none" stroke="#242424" stroke-width="0.9"/>
<line x1="317.40" y1="326.00" x2="343.60" y2="326.00" stroke="#242424" stroke-width="0.9"/>
<circle cx="316.40" cy="282.60" r="21.90" fill="none" stroke="#242424" stroke-width="0.9"/>
<circle cx="316.40" cy="282.60" r="13.60" fill="none" stroke="#242424" stroke-width="0.9"/>
<circle cx="316.40" cy="282.60" r="8.40" fill="none" stroke="#242424" stroke-width="1.3"/>
<circle cx="316.40" cy="282.60" r="6.50" fill="none" stroke="#242424" stroke-width="0.7"/>
<line x1="296.60" y1="329.30" x2="336.20" y2="329.30" stroke="#1a1a1a" stroke-width="1.5"/>
<path d="M299.70 332.30 L293.70 335.49 L299.70 338.68 L293.70 341.87 L299.70 345.06 L293.70 348.25 L299.70 351.44 L293.70 354.63 L299.70 357.82 L293.70 361.01 L299.70 364.20 L293.70 367.39 L299.70 370.58 L293.70 373.77 L305.80 378.10" fill="none" stroke="#242424" stroke-width="0.9" stroke-linejoin="round"/>
<path d="M333.10 332.30 L339.10 335.49 L333.10 338.68 L339.10 341.87 L333.10 345.06 L339.10 348.25 L333.10 351.44 L339.10 354.63 L333.10 357.82 L339.10 361.01 L333.10 364.20 L339.10 367.39 L333.10 370.58 L339.10 373.77 L327.00 378.10" fill="none" stroke="#242424" stroke-width="0.9" stroke-linejoin="round"/>
<line x1="299.70" y1="332.30" x2="333.10" y2="332.30" stroke="#242424" stroke-width="0.9"/>
<line x1="299.70" y1="338.68" x2="333.10" y2="338.68" stroke="#555" stroke-width="0.9"/>
<line x1="299.70" y1="345.06" x2="333.10" y2="345.06" stroke="#555" stroke-width="0.9"/>
<line x1="299.70" y1="351.44" x2="333.10" y2="351.44" stroke="#242424" stroke-width="0.9"/>
<line x1="299.70" y1="357.82" x2="333.10" y2="357.82" stroke="#555" stroke-width="0.9"/>
<line x1="299.70" y1="364.20" x2="333.10" y2="364.20" stroke="#555" stroke-width="0.9"/>
<line x1="299.70" y1="370.58" x2="333.10" y2="370.58" stroke="#242424" stroke-width="0.9"/>
<line x1="305.80" y1="378.10" x2="327.00" y2="378.10" stroke="#777" stroke-width="0.9"/>
<path d="M306.4 378.1 V381.4 Q306.4 383.4 308.4 383.4 H324.4 Q326.4 383.4 326.4 381.4 V378.1" fill="#fff" stroke="#242424" stroke-width="0.9"/>
<line x1="336.20" y1="325.50" x2="336.20" y2="333.00" stroke="#242424" stroke-width="0.9"/>
<line x1="316.40" y1="142.40" x2="316.40" y2="384.50" stroke="#1a1a1a" stroke-width="0.9" stroke-dasharray="9 2 2 2"/>
<line x1="286.80" y1="282.60" x2="347.20" y2="282.60" stroke="#1a1a1a" stroke-width="0.9" stroke-dasharray="9 2 2 2"/>
<line x1="309.50" y1="157.80" x2="320.00" y2="157.80" stroke="#1a1a1a" stroke-width="1.0" stroke-dasharray="4 1.5 1.5 1.5"/>
<line x1="320.00" y1="157.80" x2="363.00" y2="157.80" stroke="#242424" stroke-width="0.7"/>
<line x1="321.60" y1="231.80" x2="363.00" y2="231.80" stroke="#242424" stroke-width="0.7"/>
<line x1="362.00" y1="157.80" x2="362.00" y2="231.80" stroke="#242424" stroke-width="0.7"/>
<path d="M362.00 157.80 L363.15 163.20 L360.85 163.20 Z" fill="#242424" stroke="#242424" stroke-width="0.3"/>
<path d="M362.00 231.80 L360.85 226.40 L363.15 226.40 Z" fill="#242424" stroke="#242424" stroke-width="0.3"/>
<text x="357.60" y="195.40" font-size="9.35" text-anchor="middle" fill="#2a2a34" textLength="8.20" lengthAdjust="spacingAndGlyphs" transform="rotate(-90 357.60 195.40)" stroke="#2a2a34" stroke-width="0.18">70</text>
<text x="368.60" y="195.40" font-size="8.25" text-anchor="middle" font-style="italic" fill="#2a2a34" textLength="16.74" lengthAdjust="spacingAndGlyphs" transform="rotate(-90 368.60 195.40)" stroke="#2a2a34" stroke-width="0.1">(2.75)</text>
<line x1="266.60" y1="221.20" x2="306.40" y2="221.20" stroke="#242424" stroke-width="0.7"/>
<line x1="266.60" y1="383.40" x2="306.80" y2="383.40" stroke="#242424" stroke-width="0.7"/>
<line x1="268.00" y1="221.20" x2="268.00" y2="383.40" stroke="#242424" stroke-width="0.7"/>
<path d="M268.00 221.20 L269.15 226.60 L266.85 226.60 Z" fill="#242424" stroke="#242424" stroke-width="0.3"/>
<path d="M268.00 383.40 L266.85 378.00 L269.15 378.00 Z" fill="#242424" stroke="#242424" stroke-width="0.3"/>
<text x="264.40" y="305.00" font-size="9.35" text-anchor="middle" fill="#2a2a34" textLength="12.30" lengthAdjust="spacingAndGlyphs" transform="rotate(-90 264.40 305.00)" stroke="#2a2a34" stroke-width="0.18">153</text>
<text x="276.20" y="305.00" font-size="8.25" text-anchor="middle" font-style="italic" fill="#2a2a34" textLength="16.74" lengthAdjust="spacingAndGlyphs" transform="rotate(-90 276.20 305.00)" stroke="#2a2a34" stroke-width="0.1">(6.02)</text>
<line x1="343.40" y1="326.00" x2="343.40" y2="433.80" stroke="#242424" stroke-width="0.7"/>
<line x1="293.80" y1="372.00" x2="293.80" y2="433.80" stroke="#242424" stroke-width="0.7"/>
<line x1="316.40" y1="384.00" x2="316.40" y2="405.40" stroke="#242424" stroke-width="0.7"/>
<line x1="316.40" y1="404.50" x2="343.40" y2="404.50" stroke="#242424" stroke-width="0.7"/>
<path d="M316.40 404.50 L321.80 403.35 L321.80 405.65 Z" fill="#242424" stroke="#242424" stroke-width="0.3"/>
<path d="M343.40 404.50 L338.00 405.65 L338.00 403.35 Z" fill="#242424" stroke="#242424" stroke-width="0.3"/>
<text x="330.00" y="400.60" font-size="9.35" text-anchor="middle" fill="#2a2a34" textLength="8.20" lengthAdjust="spacingAndGlyphs" stroke="#2a2a34" stroke-width="0.18">25</text>
<text x="328.80" y="413.30" font-size="8.25" text-anchor="middle" font-style="italic" fill="#2a2a34" textLength="16.74" lengthAdjust="spacingAndGlyphs" stroke="#2a2a34" stroke-width="0.1">(0.98)</text>
<line x1="293.80" y1="432.00" x2="343.40" y2="432.00" stroke="#242424" stroke-width="0.7"/>
<path d="M293.80 432.00 L299.20 430.85 L299.20 433.15 Z" fill="#242424" stroke="#242424" stroke-width="0.3"/>
<path d="M343.40 432.00 L338.00 433.15 L338.00 430.85 Z" fill="#242424" stroke="#242424" stroke-width="0.3"/>
<text x="318.60" y="427.70" font-size="9.35" text-anchor="middle" fill="#2a2a34" textLength="8.20" lengthAdjust="spacingAndGlyphs" stroke="#2a2a34" stroke-width="0.18">46</text>
<text x="318.60" y="440.00" font-size="8.25" text-anchor="middle" font-style="italic" fill="#2a2a34" textLength="16.74" lengthAdjust="spacingAndGlyphs" stroke="#2a2a34" stroke-width="0.1">(1.81)</text>
</g>
<g id="p_draw2">
<path d="M490.2 168 V157.7 A11.2 11.2 0 0 1 512.6 157.7 V160.5 A1.7 1.7 0 0 1 509.2 160.5 V157.7 A7.8 7.8 0 0 0 493.6 157.7 V168" fill="#fff" stroke="#242424" stroke-width="0.95"/>
<line x1="486.00" y1="157.70" x2="507.00" y2="157.70" stroke="#1a1a1a" stroke-width="0.9"/>
<path d="M490.4 212 V222 Q490.6 228 496.1 229.5 M493.6 212 V221 Q493.8 224.5 496.1 225.5" fill="none" stroke="#242424" stroke-width="0.95"/>
<path d="M512.4 216.5 Q513 224 506.4 227.2 M509.2 216.5 Q509.6 221.5 506.4 223.4" fill="none" stroke="#242424" stroke-width="0.95"/>
<path d="M490.50 169.86 C490.50 167.81 492.50 168.11 493.50 168.11 L509.70 164.91 C512.70 164.91 512.70 167.83 509.70 167.83 L493.50 171.03 C491.50 171.03 490.50 170.74 490.50 169.86 Z" fill="#fff" stroke="#242424" stroke-width="1.0"/>
<path d="M490.50 174.58 C490.50 172.53 492.50 172.83 493.50 172.83 L509.70 169.63 C512.70 169.63 512.70 172.55 509.70 172.55 L493.50 175.75 C491.50 175.75 490.50 175.46 490.50 174.58 Z" fill="#fff" stroke="#242424" stroke-width="1.0"/>
<path d="M490.50 179.30 C490.50 177.25 492.50 177.55 493.50 177.55 L509.70 174.35 C512.70 174.35 512.70 177.27 509.70 177.27 L493.50 180.47 C491.50 180.47 490.50 180.18 490.50 179.30 Z" fill="#fff" stroke="#242424" stroke-width="1.0"/>
<path d="M490.50 184.02 C490.50 181.97 492.50 182.27 493.50 182.27 L509.70 179.07 C512.70 179.07 512.70 181.99 509.70 181.99 L493.50 185.19 C491.50 185.19 490.50 184.90 490.50 184.02 Z" fill="#fff" stroke="#242424" stroke-width="1.0"/>
<path d="M490.50 188.74 C490.50 186.69 492.50 186.99 493.50 186.99 L509.70 183.79 C512.70 183.79 512.70 186.71 509.70 186.71 L493.50 189.91 C491.50 189.91 490.50 189.62 490.50 188.74 Z" fill="#fff" stroke="#242424" stroke-width="1.0"/>
<path d="M490.50 193.46 C490.50 191.41 492.50 191.71 493.50 191.71 L509.70 188.51 C512.70 188.51 512.70 191.43 509.70 191.43 L493.50 194.63 C491.50 194.63 490.50 194.34 490.50 193.46 Z" fill="#fff" stroke="#242424" stroke-width="1.0"/>
<path d="M490.50 198.18 C490.50 196.13 492.50 196.43 493.50 196.43 L509.70 193.23 C512.70 193.23 512.70 196.15 509.70 196.15 L493.50 199.35 C491.50 199.35 490.50 199.06 490.50 198.18 Z" fill="#fff" stroke="#242424" stroke-width="1.0"/>
<path d="M490.50 202.90 C490.50 200.85 492.50 201.15 493.50 201.15 L509.70 197.95 C512.70 197.95 512.70 200.87 509.70 200.87 L493.50 204.07 C491.50 204.07 490.50 203.78 490.50 202.90 Z" fill="#fff" stroke="#242424" stroke-width="1.0"/>
<path d="M490.50 207.62 C490.50 205.57 492.50 205.87 493.50 205.87 L509.70 202.67 C512.70 202.67 512.70 205.59 509.70 205.59 L493.50 208.79 C491.50 208.79 490.50 208.50 490.50 207.62 Z" fill="#fff" stroke="#242424" stroke-width="1.0"/>
<path d="M490.50 212.34 C490.50 210.29 492.50 210.59 493.50 210.59 L509.70 207.39 C512.70 207.39 512.70 210.31 509.70 210.31 L493.50 213.51 C491.50 213.51 490.50 213.22 490.50 212.34 Z" fill="#fff" stroke="#242424" stroke-width="1.0"/>
<path d="M496.1 244.6 V221.3 H506.4 V244.6" fill="#fff" stroke="#242424" stroke-width="0.95"/>
<path d="M490.2 247.6 V245.8 Q490.2 244.6 491.4 244.6 H496.1 M506.4 244.6 H510.9 Q512.1 244.6 512.1 245.8 V247.6" fill="none" stroke="#242424" stroke-width="0.95"/>
<path d="M482.2 255.3 V250.3 Q482.2 247.8 484.7 247.8 H518.1 Q520.6 247.8 520.6 250.3 V254.8" fill="#fff" stroke="#242424" stroke-width="0.95"/>
<path d="M481.2 255.4 H520.6 L524 259.8 V260.2 H544.6 Q546.8 260.2 546.8 262.4 V320.6 A10.8 10.8 0 0 1 528 322.6 Q524.8 322.4 522 324.9 V329.4 H481 V324.2 H438.4 Q436.4 324.2 436.4 322.2 V287.3 Q436.4 285.3 438.4 285.3 H450.5 Q455.6 285 455.7 280 V267.1 A11.3 11.3 0 0 1 472.5 257.3 Q475.5 258.6 479 256.3 Q480.2 255.6 481.2 255.4 Z" fill="#fff" stroke="#242424" stroke-width="0.95"/>
<path d="M479 256.3 V285.3 M450.5 285.3 H484.6" fill="none" stroke="#242424" stroke-width="0.95"/>
<path d="M481 324.2 H493.8" fill="none" stroke="#242424" stroke-width="0.95"/>
<path d="M524 259.8 L501.6 282.9 L535.9 314 L568.2 342.8" fill="none" stroke="#242424" stroke-width="0.95"/>
<path d="M546.8 305 H523.4 V322.6" fill="none" stroke="#242424" stroke-width="0.95"/>
<circle cx="536.00" cy="314.00" r="8.40" fill="none" stroke="#242424" stroke-width="0.95"/>
<circle cx="536.00" cy="314.00" r="5.80" fill="none" stroke="#242424" stroke-width="1.0"/>
<circle cx="536.00" cy="314.00" r="3.30" fill="none" stroke="#242424" stroke-width="0.7"/>
<path d="M536 305 V323 M527 314 H545" fill="none" stroke="#242424" stroke-width="0.8"/>
<circle cx="467.00" cy="267.10" r="5.80" fill="none" stroke="#242424" stroke-width="1.0"/>
<circle cx="467.00" cy="267.10" r="3.10" fill="none" stroke="#242424" stroke-width="0.7"/>
<path d="M530.9 274.7 H546 M530.9 290.5 H546 M530.9 274.7 V290.5 M533 274.7 V290.5" fill="none" stroke="#242424" stroke-width="0.8" stroke-dasharray="2.6 1.2"/>
<path d="M545.4 274.7 V290.5" fill="none" stroke="#242424" stroke-width="1.0" stroke-dasharray="2.6 1.2"/>
<path d="M450.2 309 H467.4 M450.2 309 V324 M452 309 V324 M465.6 309 V324 M467.4 309 V324" fill="none" stroke="#242424" stroke-width="0.8" stroke-dasharray="2.6 1.2"/>
<text x="521.60" y="294.40" font-size="9.9" text-anchor="middle" fill="#2a2a34" textLength="4.10" lengthAdjust="spacingAndGlyphs" stroke="#2a2a34" stroke-width="0.18">1</text>
<text x="472.30" y="310.90" font-size="9.9" text-anchor="middle" fill="#2a2a34" textLength="4.10" lengthAdjust="spacingAndGlyphs" stroke="#2a2a34" stroke-width="0.18">2</text>
<line x1="481.00" y1="329.40" x2="522.00" y2="329.40" stroke="#1a1a1a" stroke-width="1.5"/>
<path d="M484.00 332.30 L478.30 335.49 L484.00 338.68 L478.30 341.87 L484.00 345.06 L478.30 348.25 L484.00 351.44 L478.30 354.63 L484.00 357.82 L478.30 361.01 L484.00 364.20 L478.30 367.39 L484.00 370.58 L478.30 373.77 L491.20 378.00" fill="none" stroke="#242424" stroke-width="0.9" stroke-linejoin="round"/>
<path d="M519.20 332.30 L524.90 335.49 L519.20 338.68 L524.90 341.87 L519.20 345.06 L524.90 348.25 L519.20 351.44 L524.90 354.63 L519.20 357.82 L524.90 361.01 L519.20 364.20 L524.90 367.39 L519.20 370.58 L524.90 373.77 L512.00 378.00" fill="none" stroke="#242424" stroke-width="0.9" stroke-linejoin="round"/>
<line x1="484.00" y1="332.30" x2="519.20" y2="332.30" stroke="#242424" stroke-width="0.9"/>
<line x1="484.00" y1="338.68" x2="519.20" y2="338.68" stroke="#555" stroke-width="0.9"/>
<line x1="484.00" y1="345.06" x2="519.20" y2="345.06" stroke="#555" stroke-width="0.9"/>
<line x1="484.00" y1="351.44" x2="519.20" y2="351.44" stroke="#242424" stroke-width="0.9"/>
<line x1="484.00" y1="357.82" x2="519.20" y2="357.82" stroke="#555" stroke-width="0.9"/>
<line x1="484.00" y1="364.20" x2="519.20" y2="364.20" stroke="#555" stroke-width="0.9"/>
<line x1="484.00" y1="370.58" x2="519.20" y2="370.58" stroke="#242424" stroke-width="0.9"/>
<line x1="491.20" y1="378.00" x2="512.00" y2="378.00" stroke="#777" stroke-width="0.9"/>
<path d="M491.8 378 V381.4 Q491.8 383.4 493.8 383.4 H509.40000000000003 Q511.40000000000003 383.4 511.40000000000003 381.4 V378" fill="#fff" stroke="#242424" stroke-width="0.95"/>
<line x1="491.80" y1="380.00" x2="511.40" y2="380.00" stroke="#242424" stroke-width="0.6"/>
<line x1="501.60" y1="143.90" x2="501.60" y2="386.00" stroke="#1a1a1a" stroke-width="0.9" stroke-dasharray="9 2 2 2"/>
<line x1="501.60" y1="386.00" x2="501.60" y2="406.00" stroke="#242424" stroke-width="0.9"/>
<line x1="437.80" y1="234.50" x2="467.00" y2="234.50" stroke="#242424" stroke-width="0.75"/>
<path d="M467.00 234.50 L461.60 235.65 L461.60 233.35 Z" fill="#242424" stroke="#242424" stroke-width="0.3"/>
<line x1="536.00" y1="234.50" x2="553.60" y2="234.50" stroke="#242424" stroke-width="0.75"/>
<path d="M536.00 234.50 L541.40 233.35 L541.40 235.65 Z" fill="#242424" stroke="#242424" stroke-width="0.3"/>
<line x1="467.00" y1="234.50" x2="467.00" y2="276.70" stroke="#1a1a1a" stroke-width="1.1"/>
<line x1="536.00" y1="234.50" x2="536.00" y2="305.00" stroke="#242424" stroke-width="0.75"/>
<text x="448.80" y="230.40" font-size="9.35" text-anchor="middle" fill="#2a2a34" textLength="8.20" lengthAdjust="spacingAndGlyphs" stroke="#2a2a34" stroke-width="0.18">66</text>
<text x="448.80" y="241.80" font-size="8.25" text-anchor="middle" font-style="italic" fill="#2a2a34" textLength="16.74" lengthAdjust="spacingAndGlyphs" stroke="#2a2a34" stroke-width="0.1">(2.59)</text>
<line x1="414.20" y1="233.40" x2="414.20" y2="314.60" stroke="#242424" stroke-width="0.75"/>
<path d="M414.20 247.90 L413.05 242.50 L415.35 242.50 Z" fill="#242424" stroke="#242424" stroke-width="0.3"/>
<path d="M414.20 267.10 L415.35 272.50 L413.05 272.50 Z" fill="#242424" stroke="#242424" stroke-width="0.3"/>
<path d="M414.20 314.60 L413.05 309.20 L415.35 309.20 Z" fill="#242424" stroke="#242424" stroke-width="0.3"/>
<line x1="413.00" y1="247.90" x2="591.40" y2="247.90" stroke="#1a1a1a" stroke-width="1.0"/>
<line x1="413.00" y1="267.10" x2="475.60" y2="267.10" stroke="#242424" stroke-width="0.9"/>
<line x1="413.00" y1="314.60" x2="523.40" y2="314.60" stroke="#242424" stroke-width="0.75"/>
<text x="409.30" y="256.20" font-size="9.35" text-anchor="middle" fill="#2a2a34" textLength="8.20" lengthAdjust="spacingAndGlyphs" transform="rotate(-90 409.30 256.20)" stroke="#2a2a34" stroke-width="0.18">18</text>
<text x="422.60" y="258.20" font-size="8.25" text-anchor="middle" font-style="italic" fill="#2a2a34" textLength="16.74" lengthAdjust="spacingAndGlyphs" transform="rotate(-90 422.60 258.20)" stroke="#2a2a34" stroke-width="0.1">(0.70)</text>
<text x="409.30" y="291.20" font-size="9.35" text-anchor="middle" fill="#2a2a34" textLength="8.20" lengthAdjust="spacingAndGlyphs" transform="rotate(-90 409.30 291.20)" stroke="#2a2a34" stroke-width="0.18">45</text>
<text x="422.60" y="291.20" font-size="8.25" text-anchor="middle" font-style="italic" fill="#2a2a34" textLength="16.74" lengthAdjust="spacingAndGlyphs" transform="rotate(-90 422.60 291.20)" stroke="#2a2a34" stroke-width="0.1">(1.77)</text>
<line x1="525.40" y1="282.90" x2="591.40" y2="282.90" stroke="#242424" stroke-width="0.9"/>
<line x1="590.00" y1="247.90" x2="590.00" y2="282.90" stroke="#242424" stroke-width="0.75"/>
<path d="M590.00 247.90 L591.15 253.30 L588.85 253.30 Z" fill="#242424" stroke="#242424" stroke-width="0.3"/>
<path d="M590.00 282.90 L588.85 277.50 L591.15 277.50 Z" fill="#242424" stroke="#242424" stroke-width="0.3"/>
<text x="587.20" y="267.40" font-size="9.35" text-anchor="middle" fill="#2a2a34" textLength="8.20" lengthAdjust="spacingAndGlyphs" transform="rotate(-90 587.20 267.40)" stroke="#2a2a34" stroke-width="0.18">32</text>
<text x="598.20" y="266.80" font-size="8.25" text-anchor="middle" font-style="italic" fill="#2a2a34" textLength="16.74" lengthAdjust="spacingAndGlyphs" transform="rotate(-90 598.20 266.80)" stroke="#2a2a34" stroke-width="0.1">(1.25)</text>
<line x1="528.20" y1="274.70" x2="568.00" y2="274.70" stroke="#242424" stroke-width="0.9"/>
<line x1="546.00" y1="290.50" x2="568.00" y2="290.50" stroke="#242424" stroke-width="0.9"/>
<line x1="567.40" y1="259.60" x2="567.40" y2="319.40" stroke="#242424" stroke-width="0.75"/>
<path d="M567.40 274.70 L566.25 269.30 L568.55 269.30 Z" fill="#242424" stroke="#242424" stroke-width="0.3"/>
<path d="M567.40 290.50 L568.55 295.90 L566.25 295.90 Z" fill="#242424" stroke="#242424" stroke-width="0.3"/>
<text x="563.20" y="313.20" font-size="9.9" text-anchor="middle" fill="#2a2a34" textLength="5.60" lengthAdjust="spacingAndGlyphs" transform="rotate(-90 563.20 313.20)" stroke="#2a2a34" stroke-width="0.18">A</text>
<line x1="419.30" y1="344.80" x2="450.20" y2="344.80" stroke="#242424" stroke-width="0.75"/>
<line x1="467.40" y1="344.80" x2="475.00" y2="344.80" stroke="#242424" stroke-width="0.75"/>
<path d="M450.20 344.80 L444.80 345.95 L444.80 343.65 Z" fill="#242424" stroke="#242424" stroke-width="0.3"/>
<path d="M467.40 344.80 L472.80 343.65 L472.80 345.95 Z" fill="#242424" stroke="#242424" stroke-width="0.3"/>
<line x1="450.20" y1="324.00" x2="450.20" y2="347.00" stroke="#242424" stroke-width="0.75"/>
<line x1="467.40" y1="309.00" x2="467.40" y2="347.00" stroke="#242424" stroke-width="0.9"/>
<text x="425.40" y="340.40" font-size="10.45" text-anchor="middle" fill="#2a2a34" textLength="6.00" lengthAdjust="spacingAndGlyphs" stroke="#2a2a34" stroke-width="0.18">A</text>
<text x="561.30" y="333.00" font-size="9.35" text-anchor="middle" font-style="italic" fill="#2a2a34" textLength="8.67" lengthAdjust="spacingAndGlyphs" transform="rotate(45 561.30 333.00)" stroke="#2a2a34" stroke-width="0.1">8.5</text>
<text x="553.40" y="340.60" font-size="7.7" text-anchor="middle" font-style="italic" fill="#2a2a34" textLength="16.74" lengthAdjust="spacingAndGlyphs" transform="rotate(45 553.40 340.60)" stroke="#2a2a34" stroke-width="0.1">(0.33)</text>
<rect x="-9" y="-6.2" width="18" height="7.6" fill="none" stroke="#242424" stroke-width="0.6" transform="translate(553.4 340.6) rotate(45)"/>
<line x1="458.40" y1="306.30" x2="458.40" y2="406.50" stroke="#242424" stroke-width="0.9"/>
<line x1="546.80" y1="320.00" x2="546.80" y2="429.40" stroke="#242424" stroke-width="0.75"/>
<line x1="436.40" y1="324.00" x2="436.40" y2="429.40" stroke="#242424" stroke-width="0.75"/>
<line x1="458.40" y1="405.00" x2="546.80" y2="405.00" stroke="#242424" stroke-width="0.75"/>
<path d="M458.40 405.00 L463.80 403.85 L463.80 406.15 Z" fill="#242424" stroke="#242424" stroke-width="0.3"/>
<path d="M501.60 405.00 L496.20 406.15 L496.20 403.85 Z" fill="#242424" stroke="#242424" stroke-width="0.3"/>
<path d="M501.60 405.00 L507.00 403.85 L507.00 406.15 Z" fill="#242424" stroke="#242424" stroke-width="0.3"/>
<path d="M546.80 405.00 L541.40 406.15 L541.40 403.85 Z" fill="#242424" stroke="#242424" stroke-width="0.3"/>
<text x="479.40" y="401.00" font-size="9.35" text-anchor="middle" fill="#2a2a34" textLength="8.20" lengthAdjust="spacingAndGlyphs" stroke="#2a2a34" stroke-width="0.18">40</text>
<text x="479.40" y="412.20" font-size="8.25" text-anchor="middle" font-style="italic" fill="#2a2a34" textLength="16.74" lengthAdjust="spacingAndGlyphs" stroke="#2a2a34" stroke-width="0.1">(1.57)</text>
<text x="524.00" y="401.00" font-size="9.35" text-anchor="middle" fill="#2a2a34" textLength="8.20" lengthAdjust="spacingAndGlyphs" stroke="#2a2a34" stroke-width="0.18">43</text>
<text x="524.00" y="412.20" font-size="8.25" text-anchor="middle" font-style="italic" fill="#2a2a34" textLength="16.74" lengthAdjust="spacingAndGlyphs" stroke="#2a2a34" stroke-width="0.1">(1.69)</text>
<line x1="436.40" y1="427.60" x2="546.80" y2="427.60" stroke="#242424" stroke-width="0.75"/>
<path d="M436.40 427.60 L441.80 426.45 L441.80 428.75 Z" fill="#242424" stroke="#242424" stroke-width="0.3"/>
<path d="M546.80 427.60 L541.40 428.75 L541.40 426.45 Z" fill="#242424" stroke="#242424" stroke-width="0.3"/>
<text x="497.00" y="423.20" font-size="9.35" text-anchor="middle" fill="#2a2a34" textLength="12.30" lengthAdjust="spacingAndGlyphs" stroke="#2a2a34" stroke-width="0.18">104</text>
<text x="497.00" y="436.60" font-size="8.25" text-anchor="middle" font-style="italic" fill="#2a2a34" textLength="16.74" lengthAdjust="spacingAndGlyphs" stroke="#2a2a34" stroke-width="0.1">(4.09)</text>
</g>
<g id="p_draw3">
<path d="M316.85 669.5 V657 L318.25 654 L319.65 657 V669.5" fill="#fff" stroke="#242424" stroke-width="0.95"/>
<path d="M316.85 708 V725 M319.65 708 V725" fill="none" stroke="#242424" stroke-width="0.95"/>
<path d="M309.35 672.82 C309.35 670.97 311.35 671.24 312.35 671.24 L324.15 668.64 C327.15 668.64 327.15 671.28 324.15 671.28 L312.35 673.88 C310.35 673.88 309.35 673.62 309.35 672.82 Z" fill="#fff" stroke="#242424" stroke-width="1.0"/>
<path d="M309.35 677.09 C309.35 675.24 311.35 675.50 312.35 675.50 L324.15 672.90 C327.15 672.90 327.15 675.55 324.15 675.55 L312.35 678.15 C310.35 678.15 309.35 677.88 309.35 677.09 Z" fill="#fff" stroke="#242424" stroke-width="1.0"/>
<path d="M309.35 681.36 C309.35 679.50 311.35 679.77 312.35 679.77 L324.15 677.17 C327.15 677.17 327.15 679.81 324.15 679.81 L312.35 682.41 C310.35 682.41 309.35 682.15 309.35 681.36 Z" fill="#fff" stroke="#242424" stroke-width="1.0"/>
<path d="M309.35 685.62 C309.35 683.77 311.35 684.04 312.35 684.04 L324.15 681.44 C327.15 681.44 327.15 684.08 324.15 684.08 L312.35 686.68 C310.35 686.68 309.35 686.42 309.35 685.62 Z" fill="#fff" stroke="#242424" stroke-width="1.0"/>
<path d="M309.35 689.89 C309.35 688.04 311.35 688.30 312.35 688.30 L324.15 685.70 C327.15 685.70 327.15 688.35 324.15 688.35 L312.35 690.95 C310.35 690.95 309.35 690.68 309.35 689.89 Z" fill="#fff" stroke="#242424" stroke-width="1.0"/>
<path d="M309.35 694.16 C309.35 692.30 311.35 692.57 312.35 692.57 L324.15 689.97 C327.15 689.97 327.15 692.61 324.15 692.61 L312.35 695.21 C310.35 695.21 309.35 694.95 309.35 694.16 Z" fill="#fff" stroke="#242424" stroke-width="1.0"/>
<path d="M309.35 698.42 C309.35 696.57 311.35 696.84 312.35 696.84 L324.15 694.24 C327.15 694.24 327.15 696.88 324.15 696.88 L312.35 699.48 C310.35 699.48 309.35 699.22 309.35 698.42 Z" fill="#fff" stroke="#242424" stroke-width="1.0"/>
<path d="M309.35 702.69 C309.35 700.84 311.35 701.10 312.35 701.10 L324.15 698.50 C327.15 698.50 327.15 701.15 324.15 701.15 L312.35 703.75 C310.35 703.75 309.35 703.48 309.35 702.69 Z" fill="#fff" stroke="#242424" stroke-width="1.0"/>
<path d="M309.35 706.96 C309.35 705.10 311.35 705.37 312.35 705.37 L324.15 702.77 C327.15 702.77 327.15 705.41 324.15 705.41 L312.35 708.01 C310.35 708.01 309.35 707.75 309.35 706.96 Z" fill="#fff" stroke="#242424" stroke-width="1.0"/>
<path d="M310.4 736.6 V718.4 Q310.4 715.9 312.9 715.9 H324.5 Q327 715.9 327 718.4 V736.6" fill="#fff" stroke="#242424" stroke-width="1.0"/>
<circle cx="318.25" cy="725.20" r="4.40" fill="#fff" stroke="#242424" stroke-width="1.0"/>
<path d="M316.85 716 V724 M319.65 716 V724" fill="none" stroke="#242424" stroke-width="0.95"/>
<line x1="303.40" y1="737.20" x2="332.30" y2="737.20" stroke="#1a1a1a" stroke-width="1.6"/>
<path d="M292.4 738.7 H347.6 Q350.6 738.7 350.6 741.7 V754.2 Q350.6 756.6 347.1 756.9 V797.4 M347.1 815.2 V821.2 Q347.1 824.3 344.1 824.3 H292.4 Q289.4 824.3 289.4 821.3 V741.7 Q289.4 738.7 292.4 738.7 Z" fill="#fff" stroke="#242424" stroke-width="0.95"/>
<path d="M289.4 741.7 V821.3 Q289.4 824.3 292.4 824.3 H344.1 Q347.1 824.3 347.1 821.2 V757 Q350.6 756.6 350.6 754.2 V741.7 Q350.6 738.7 347.6 738.7 H292.4 Q289.4 738.7 289.4 741.7 Z" fill="#fff" stroke="#242424" stroke-width="0.95"/>
<path d="M331.9 791.3 V797.4 H348.6 Q350.6 797.4 350.6 799.4 V813.2 Q350.6 815.2 348.6 815.2 H319" fill="#fff" stroke="#242424" stroke-width="0.95"/>
<circle cx="318.25" cy="767.60" r="27.60" fill="none" stroke="#242424" stroke-width="0.95"/>
<circle cx="318.25" cy="767.60" r="21.90" fill="none" stroke="#242424" stroke-width="0.95"/>
<circle cx="318.25" cy="767.60" r="13.60" fill="none" stroke="#242424" stroke-width="1.4"/>
<circle cx="318.25" cy="767.60" r="10.90" fill="none" stroke="#242424" stroke-width="0.7"/>
<path d="M300.4 824.3 V830.5 H337 V824.3 M301.6 830.5 V844.6 M335.8 830.5 V844.6 M301.6 834.9 H335.8 M301.6 841 H335.8" fill="none" stroke="#242424" stroke-width="0.95"/>
<path d="M303.95 845.60 L299.25 848.22 L303.95 850.84 L299.25 853.46 L303.95 856.08 L299.25 858.70 L303.95 861.32 L299.25 863.94 L303.95 866.56 L299.25 869.18 L303.95 871.80 L299.25 874.42 L303.95 877.04 L299.25 879.66 L309.85 884.00" fill="none" stroke="#242424" stroke-width="0.9" stroke-linejoin="round"/>
<path d="M332.55 845.60 L337.25 848.22 L332.55 850.84 L337.25 853.46 L332.55 856.08 L337.25 858.70 L332.55 861.32 L337.25 863.94 L332.55 866.56 L337.25 869.18 L332.55 871.80 L337.25 874.42 L332.55 877.04 L337.25 879.66 L326.65 884.00" fill="none" stroke="#242424" stroke-width="0.9" stroke-linejoin="round"/>
<line x1="303.95" y1="845.60" x2="332.55" y2="845.60" stroke="#242424" stroke-width="0.9"/>
<line x1="303.95" y1="850.84" x2="332.55" y2="850.84" stroke="#555" stroke-width="0.9"/>
<line x1="303.95" y1="856.08" x2="332.55" y2="856.08" stroke="#555" stroke-width="0.9"/>
<line x1="303.95" y1="861.32" x2="332.55" y2="861.32" stroke="#242424" stroke-width="0.9"/>
<line x1="303.95" y1="866.56" x2="332.55" y2="866.56" stroke="#555" stroke-width="0.9"/>
<line x1="303.95" y1="871.80" x2="332.55" y2="871.80" stroke="#555" stroke-width="0.9"/>
<line x1="303.95" y1="877.04" x2="332.55" y2="877.04" stroke="#242424" stroke-width="0.9"/>
<line x1="309.85" y1="884.00" x2="326.65" y2="884.00" stroke="#777" stroke-width="0.9"/>
<path d="M310.05 884 V886 Q310.05 888 312.05 888 H324.45 Q326.45 888 326.45 886 V884" fill="#fff" stroke="#242424" stroke-width="0.95"/>
<line x1="318.25" y1="652.00" x2="318.25" y2="889.00" stroke="#1a1a1a" stroke-width="0.9" stroke-dasharray="9 2 2 2"/>
<line x1="281.50" y1="767.60" x2="352.60" y2="767.60" stroke="#1a1a1a" stroke-width="0.9" stroke-dasharray="9 2 2 2"/>
<line x1="313.00" y1="663.00" x2="322.00" y2="663.00" stroke="#1a1a1a" stroke-width="1.0"/>
<line x1="322.00" y1="663.00" x2="360.60" y2="663.00" stroke="#242424" stroke-width="0.75"/>
<line x1="322.60" y1="725.20" x2="360.60" y2="725.20" stroke="#242424" stroke-width="0.75"/>
<line x1="359.40" y1="663.00" x2="359.40" y2="725.20" stroke="#242424" stroke-width="0.75"/>
<path d="M359.40 663.00 L360.55 668.40 L358.25 668.40 Z" fill="#242424" stroke="#242424" stroke-width="0.3"/>
<path d="M359.40 725.20 L358.25 719.80 L360.55 719.80 Z" fill="#242424" stroke="#242424" stroke-width="0.3"/>
<text x="355.00" y="693.10" font-size="9.35" text-anchor="middle" fill="#2a2a34" textLength="8.20" lengthAdjust="spacingAndGlyphs" transform="rotate(-90 355.00 693.10)" stroke="#2a2a34" stroke-width="0.18">70</text>
<text x="368.00" y="693.10" font-size="8.25" text-anchor="middle" font-style="italic" fill="#2a2a34" textLength="16.74" lengthAdjust="spacingAndGlyphs" transform="rotate(-90 368.00 693.10)" stroke="#2a2a34" stroke-width="0.1">(2.75)</text>
<line x1="261.40" y1="715.90" x2="310.40" y2="715.90" stroke="#242424" stroke-width="0.75"/>
<line x1="261.40" y1="887.90" x2="310.40" y2="887.90" stroke="#242424" stroke-width="0.75"/>
<line x1="263.10" y1="715.90" x2="263.10" y2="887.90" stroke="#242424" stroke-width="0.75"/>
<path d="M263.10 715.90 L264.25 721.30 L261.95 721.30 Z" fill="#242424" stroke="#242424" stroke-width="0.3"/>
<path d="M263.10 887.90 L261.95 882.50 L264.25 882.50 Z" fill="#242424" stroke="#242424" stroke-width="0.3"/>
<text x="259.80" y="802.60" font-size="8.5" text-anchor="middle" font-weight="bold" fill="#222" textLength="20.00" lengthAdjust="spacingAndGlyphs" transform="rotate(-90 259.80 802.60)">194.5</text>
<text x="271.80" y="803.20" font-size="8.25" text-anchor="middle" font-style="italic" fill="#2a2a34" textLength="16.74" lengthAdjust="spacingAndGlyphs" transform="rotate(-90 271.80 803.20)" stroke="#2a2a34" stroke-width="0.1">(7.65)</text>
<line x1="318.25" y1="888.00" x2="318.25" y2="904.50" stroke="#242424" stroke-width="0.9"/>
<line x1="350.60" y1="815.00" x2="350.60" y2="934.60" stroke="#242424" stroke-width="0.75"/>
<line x1="289.40" y1="821.00" x2="289.40" y2="934.60" stroke="#242424" stroke-width="0.75"/>
<line x1="318.25" y1="903.70" x2="350.60" y2="903.70" stroke="#242424" stroke-width="0.75"/>
<path d="M318.25 903.70 L323.65 902.55 L323.65 904.85 Z" fill="#242424" stroke="#242424" stroke-width="0.3"/>
<path d="M350.60 903.70 L345.20 904.85 L345.20 902.55 Z" fill="#242424" stroke="#242424" stroke-width="0.3"/>
<text x="333.70" y="900.20" font-size="9.35" text-anchor="middle" fill="#2a2a34" textLength="8.20" lengthAdjust="spacingAndGlyphs" stroke="#2a2a34" stroke-width="0.18">36</text>
<text x="333.70" y="912.00" font-size="8.25" text-anchor="middle" font-style="italic" fill="#2a2a34" textLength="16.74" lengthAdjust="spacingAndGlyphs" stroke="#2a2a34" stroke-width="0.1">(1.41)</text>
<line x1="289.40" y1="932.00" x2="350.60" y2="932.00" stroke="#242424" stroke-width="0.75"/>
<path d="M289.40 932.00 L294.80 930.85 L294.80 933.15 Z" fill="#242424" stroke="#242424" stroke-width="0.3"/>
<path d="M350.60 932.00 L345.20 933.15 L345.20 930.85 Z" fill="#242424" stroke="#242424" stroke-width="0.3"/>
<text x="320.00" y="928.90" font-size="9.35" text-anchor="middle" fill="#2a2a34" textLength="14.30" lengthAdjust="spacingAndGlyphs" stroke="#2a2a34" stroke-width="0.18">68.5</text>
<text x="320.00" y="939.60" font-size="8.25" text-anchor="middle" font-style="italic" fill="#2a2a34" textLength="16.74" lengthAdjust="spacingAndGlyphs" stroke="#2a2a34" stroke-width="0.1">(2.69)</text>
<path d="M513 669 V663.4 A9.6 9.6 0 0 0 493.8 663.4 V665.8 A1.3 1.3 0 0 0 496.4 665.8 V663.4 A7 7 0 0 1 510.4 663.4 V669" fill="#fff" stroke="#242424" stroke-width="0.95"/>
<line x1="494.20" y1="662.60" x2="510.00" y2="662.60" stroke="#1a1a1a" stroke-width="0.9"/>
<path d="M494.4 710.6 Q494 717.5 498.6 719.6 M496.9 710.6 Q496.8 715 498.6 716.4" fill="none" stroke="#242424" stroke-width="0.95"/>
<path d="M513 708 V716 Q512.8 721 508.3 722.6 M510.4 708 V715.6 Q510.2 718.6 508.3 719.4" fill="none" stroke="#242424" stroke-width="0.95"/>
<path d="M493.90 671.94 C493.90 670.20 495.90 670.45 496.90 670.45 L509.90 667.85 C512.90 667.85 512.90 670.33 509.90 670.33 L496.90 672.93 C494.90 672.93 493.90 672.68 493.90 671.94 Z" fill="#fff" stroke="#242424" stroke-width="1.0"/>
<path d="M493.90 675.94 C493.90 674.20 495.90 674.45 496.90 674.45 L509.90 671.85 C512.90 671.85 512.90 674.33 509.90 674.33 L496.90 676.93 C494.90 676.93 493.90 676.68 493.90 675.94 Z" fill="#fff" stroke="#242424" stroke-width="1.0"/>
<path d="M493.90 679.94 C493.90 678.20 495.90 678.45 496.90 678.45 L509.90 675.85 C512.90 675.85 512.90 678.33 509.90 678.33 L496.90 680.93 C494.90 680.93 493.90 680.68 493.90 679.94 Z" fill="#fff" stroke="#242424" stroke-width="1.0"/>
<path d="M493.90 683.94 C493.90 682.20 495.90 682.45 496.90 682.45 L509.90 679.85 C512.90 679.85 512.90 682.33 509.90 682.33 L496.90 684.93 C494.90 684.93 493.90 684.68 493.90 683.94 Z" fill="#fff" stroke="#242424" stroke-width="1.0"/>
<path d="M493.90 687.94 C493.90 686.20 495.90 686.45 496.90 686.45 L509.90 683.85 C512.90 683.85 512.90 686.33 509.90 686.33 L496.90 688.93 C494.90 688.93 493.90 688.68 493.90 687.94 Z" fill="#fff" stroke="#242424" stroke-width="1.0"/>
<path d="M493.90 691.94 C493.90 690.20 495.90 690.45 496.90 690.45 L509.90 687.85 C512.90 687.85 512.90 690.33 509.90 690.33 L496.90 692.93 C494.90 692.93 493.90 692.68 493.90 691.94 Z" fill="#fff" stroke="#242424" stroke-width="1.0"/>
<path d="M493.90 695.94 C493.90 694.20 495.90 694.45 496.90 694.45 L509.90 691.85 C512.90 691.85 512.90 694.33 509.90 694.33 L496.90 696.93 C494.90 696.93 493.90 696.68 493.90 695.94 Z" fill="#fff" stroke="#242424" stroke-width="1.0"/>
<path d="M493.90 699.94 C493.90 698.20 495.90 698.45 496.90 698.45 L509.90 695.85 C512.90 695.85 512.90 698.33 509.90 698.33 L496.90 700.93 C494.90 700.93 493.90 700.68 493.90 699.94 Z" fill="#fff" stroke="#242424" stroke-width="1.0"/>
<path d="M493.90 703.94 C493.90 702.20 495.90 702.45 496.90 702.45 L509.90 699.85 C512.90 699.85 512.90 702.33 509.90 702.33 L496.90 704.93 C494.90 704.93 493.90 704.68 493.90 703.94 Z" fill="#fff" stroke="#242424" stroke-width="1.0"/>
<path d="M493.90 707.94 C493.90 706.20 495.90 706.45 496.90 706.45 L509.90 703.85 C512.90 703.85 512.90 706.33 509.90 706.33 L496.90 708.93 C494.90 708.93 493.90 708.68 493.90 707.94 Z" fill="#fff" stroke="#242424" stroke-width="1.0"/>
<path d="M498.6 735.4 V713.3 H508.3 V735.4" fill="#fff" stroke="#242424" stroke-width="0.95"/>
<line x1="489.80" y1="736.50" x2="517.20" y2="736.50" stroke="#1a1a1a" stroke-width="1.6"/>
<path d="M475.9 738.3 H532.6 C526 749 514.9 758 514.9 766 C514.9 775 526 786 531.6 794 V821.6 Q531.6 824.6 528.6 824.6 H478.2 Q475.2 824.6 475.2 821.6 V815 C481 806 493 796 493 787 C493 778 484 770 475.9 759.4 Z" fill="#fff" stroke="#242424" stroke-width="0.95"/>
<path d="M475.9 759.4 H454.4 Q451.9 759.4 451.9 761.9 V809.9 Q451.9 812.4 454.4 812.4 H475.9" fill="#fff" stroke="#242424" stroke-width="0.95"/>
<path d="M455.7 759.4 V748.2 Q455.7 738.4 465.5 738.3 H475.9 V759.4" fill="#fff" stroke="#242424" stroke-width="0.95"/>
<circle cx="463.80" cy="748.20" r="4.20" fill="none" stroke="#242424" stroke-width="1.0"/>
<path d="M463.8 742.4 V754 M458 748.2 H471" fill="none" stroke="#242424" stroke-width="0.8"/>
<path d="M532.3 738.3 V742 H552.4 Q554.9 742 554.9 744.5 V791.5 Q554.9 794 552.6 794 Q552.8 800 552.4 806.3 A9 9 0 0 1 543.4 815.3 H531.6" fill="#fff" stroke="#242424" stroke-width="0.95"/>
<path d="M531.6 794 H552.6" fill="none" stroke="#242424" stroke-width="0.95"/>
<circle cx="543.40" cy="806.30" r="5.20" fill="none" stroke="#242424" stroke-width="1.0"/>
<path d="M543.4 799.6 V813 M536.6 806.3 H550.2" fill="none" stroke="#242424" stroke-width="0.8"/>
<path d="M540.4 754.6 H553.5 M540.4 781.8 H553.5 M540.4 754.6 V781.8 M542.2 754.6 V781.8 M551.6 754.6 V781.8 M553.5 754.6 V781.8" fill="none" stroke="#242424" stroke-width="0.8" stroke-dasharray="2.4 1.4"/>
<path d="M452.8 773 H466.8 M452.8 799.3 H466.8 M452.8 773 V799.3 M454.6 773 V799.3 M466.8 773 V799.3" fill="none" stroke="#242424" stroke-width="0.8" stroke-dasharray="2.4 1.4"/>
<text x="529.80" y="760.80" font-size="9.9" text-anchor="middle" fill="#2a2a34" textLength="4.10" lengthAdjust="spacingAndGlyphs" stroke="#2a2a34" stroke-width="0.18">1</text>
<text x="475.20" y="777.40" font-size="9.9" text-anchor="middle" fill="#2a2a34" textLength="4.10" lengthAdjust="spacingAndGlyphs" stroke="#2a2a34" stroke-width="0.18">2</text>
<path d="M485.2 824.6 V834.6 H522.2 V824.6 M486.4 834.6 V845 M521 834.6 V845 M485.2 829.9 H522.2 M486.4 842.1 H521" fill="none" stroke="#242424" stroke-width="0.95"/>
<path d="M489.20 845.60 L484.20 848.22 L489.20 850.84 L484.20 853.46 L489.20 856.08 L484.20 858.70 L489.20 861.32 L484.20 863.94 L489.20 866.56 L484.20 869.18 L489.20 871.80 L484.20 874.42 L489.20 877.04 L484.20 879.66 L495.20 884.10" fill="none" stroke="#242424" stroke-width="0.9" stroke-linejoin="round"/>
<path d="M517.60 845.60 L522.60 848.22 L517.60 850.84 L522.60 853.46 L517.60 856.08 L522.60 858.70 L517.60 861.32 L522.60 863.94 L517.60 866.56 L522.60 869.18 L517.60 871.80 L522.60 874.42 L517.60 877.04 L522.60 879.66 L511.60 884.10" fill="none" stroke="#242424" stroke-width="0.9" stroke-linejoin="round"/>
<line x1="489.20" y1="845.60" x2="517.60" y2="845.60" stroke="#242424" stroke-width="0.9"/>
<line x1="489.20" y1="850.84" x2="517.60" y2="850.84" stroke="#555" stroke-width="0.9"/>
<line x1="489.20" y1="856.08" x2="517.60" y2="856.08" stroke="#555" stroke-width="0.9"/>
<line x1="489.20" y1="861.32" x2="517.60" y2="861.32" stroke="#242424" stroke-width="0.9"/>
<line x1="489.20" y1="866.56" x2="517.60" y2="866.56" stroke="#555" stroke-width="0.9"/>
<line x1="489.20" y1="871.80" x2="517.60" y2="871.80" stroke="#555" stroke-width="0.9"/>
<line x1="489.20" y1="877.04" x2="517.60" y2="877.04" stroke="#242424" stroke-width="0.9"/>
<line x1="495.20" y1="884.10" x2="511.60" y2="884.10" stroke="#777" stroke-width="0.9"/>
<path d="M495.29999999999995 884.1 V886.2 Q495.29999999999995 888.2 497.29999999999995 888.2 H509.5 Q511.5 888.2 511.5 886.2 V884.1" fill="#fff" stroke="#242424" stroke-width="0.95"/>
<line x1="495.30" y1="885.20" x2="511.50" y2="885.20" stroke="#242424" stroke-width="0.6"/>
<line x1="503.40" y1="652.90" x2="503.40" y2="890.60" stroke="#1a1a1a" stroke-width="0.9" stroke-dasharray="9 2 2 2"/>
<line x1="402.00" y1="738.30" x2="605.20" y2="738.30" stroke="#242424" stroke-width="0.9"/>
<line x1="403.40" y1="738.30" x2="403.40" y2="786.10" stroke="#242424" stroke-width="0.75"/>
<path d="M403.40 738.30 L404.55 743.70 L402.25 743.70 Z" fill="#242424" stroke="#242424" stroke-width="0.3"/>
<path d="M403.40 786.10 L402.25 780.70 L404.55 780.70 Z" fill="#242424" stroke="#242424" stroke-width="0.3"/>
<line x1="402.00" y1="786.10" x2="469.40" y2="786.10" stroke="#242424" stroke-width="0.9"/>
<text x="400.80" y="763.40" font-size="9.35" text-anchor="middle" fill="#2a2a34" textLength="8.20" lengthAdjust="spacingAndGlyphs" transform="rotate(-90 400.80 763.40)" stroke="#2a2a34" stroke-width="0.18">54</text>
<text x="411.20" y="762.50" font-size="8.25" text-anchor="middle" font-style="italic" fill="#2a2a34" textLength="16.74" lengthAdjust="spacingAndGlyphs" transform="rotate(-90 411.20 762.50)" stroke="#2a2a34" stroke-width="0.1">(2.12)</text>
<line x1="425.60" y1="748.20" x2="425.60" y2="806.30" stroke="#242424" stroke-width="0.75"/>
<path d="M425.60 748.20 L426.75 753.60 L424.45 753.60 Z" fill="#242424" stroke="#242424" stroke-width="0.3"/>
<path d="M425.60 806.30 L424.45 800.90 L426.75 800.90 Z" fill="#242424" stroke="#242424" stroke-width="0.3"/>
<line x1="424.60" y1="748.20" x2="471.20" y2="748.20" stroke="#242424" stroke-width="0.9"/>
<line x1="424.60" y1="806.30" x2="550.40" y2="806.30" stroke="#242424" stroke-width="0.75"/>
<text x="423.40" y="773.90" font-size="9.35" text-anchor="middle" fill="#2a2a34" textLength="8.20" lengthAdjust="spacingAndGlyphs" transform="rotate(-90 423.40 773.90)" stroke="#2a2a34" stroke-width="0.18">66</text>
<text x="434.60" y="773.90" font-size="8.25" text-anchor="middle" font-style="italic" fill="#2a2a34" textLength="16.74" lengthAdjust="spacingAndGlyphs" transform="rotate(-90 434.60 773.90)" stroke="#2a2a34" stroke-width="0.1">(2.59)</text>
<line x1="437.00" y1="712.60" x2="463.80" y2="748.20" stroke="#242424" stroke-width="0.9"/>
<line x1="463.80" y1="748.20" x2="473.80" y2="760.80" stroke="#242424" stroke-width="0.9" stroke-dasharray="3 1.5"/>
<text x="447.20" y="720.20" font-size="9.35" text-anchor="middle" fill="#2a2a34" textLength="14.30" lengthAdjust="spacingAndGlyphs" transform="rotate(53 447.20 720.20)" stroke="#2a2a34" stroke-width="0.18">10.5</text>
<text x="438.60" y="727.00" font-size="8.25" text-anchor="middle" font-style="italic" fill="#2a2a34" textLength="16.74" lengthAdjust="spacingAndGlyphs" transform="rotate(53 438.60 727.00)" stroke="#2a2a34" stroke-width="0.1">(0.41)</text>
<line x1="553.50" y1="754.60" x2="586.40" y2="754.60" stroke="#242424" stroke-width="0.9"/>
<line x1="553.50" y1="781.80" x2="586.40" y2="781.80" stroke="#242424" stroke-width="0.9"/>
<line x1="539.50" y1="768.10" x2="605.20" y2="768.10" stroke="#242424" stroke-width="0.9"/>
<line x1="585.00" y1="743.30" x2="585.00" y2="820.30" stroke="#242424" stroke-width="0.75"/>
<path d="M585.00 754.60 L583.85 749.20 L586.15 749.20 Z" fill="#242424" stroke="#242424" stroke-width="0.3"/>
<path d="M585.00 781.80 L586.15 787.20 L583.85 787.20 Z" fill="#242424" stroke="#242424" stroke-width="0.3"/>
<text x="581.00" y="804.50" font-size="9.9" text-anchor="middle" fill="#2a2a34" textLength="24.50" lengthAdjust="spacingAndGlyphs" transform="rotate(-90 581.00 804.50)" stroke="#2a2a34" stroke-width="0.18">BSPP 1</text>
<line x1="603.90" y1="738.30" x2="603.90" y2="768.10" stroke="#242424" stroke-width="0.75"/>
<path d="M603.90 738.30 L605.05 743.70 L602.75 743.70 Z" fill="#242424" stroke="#242424" stroke-width="0.3"/>
<path d="M603.90 768.10 L602.75 762.70 L605.05 762.70 Z" fill="#242424" stroke="#242424" stroke-width="0.3"/>
<text x="601.20" y="754.60" font-size="9.35" text-anchor="middle" fill="#2a2a34" textLength="8.20" lengthAdjust="spacingAndGlyphs" transform="rotate(-90 601.20 754.60)" stroke="#2a2a34" stroke-width="0.18">34</text>
<text x="612.80" y="753.40" font-size="8.25" text-anchor="middle" font-style="italic" fill="#2a2a34" textLength="16.74" lengthAdjust="spacingAndGlyphs" transform="rotate(-90 612.80 753.40)" stroke="#2a2a34" stroke-width="0.1">(1.33)</text>
<line x1="463.80" y1="754.00" x2="463.80" y2="913.40" stroke="#242424" stroke-width="0.75"/>
<line x1="543.60" y1="813.00" x2="543.60" y2="913.40" stroke="#242424" stroke-width="0.9"/>
<line x1="463.80" y1="912.10" x2="543.60" y2="912.10" stroke="#242424" stroke-width="0.75"/>
<path d="M463.80 912.10 L469.20 910.95 L469.20 913.25 Z" fill="#242424" stroke="#242424" stroke-width="0.3"/>
<path d="M543.60 912.10 L538.20 913.25 L538.20 910.95 Z" fill="#242424" stroke="#242424" stroke-width="0.3"/>
<text x="503.90" y="908.70" font-size="9.35" text-anchor="middle" fill="#2a2a34" textLength="8.20" lengthAdjust="spacingAndGlyphs" stroke="#2a2a34" stroke-width="0.18">90</text>
<text x="503.90" y="920.60" font-size="8.25" text-anchor="middle" font-style="italic" fill="#2a2a34" textLength="16.74" lengthAdjust="spacingAndGlyphs" stroke="#2a2a34" stroke-width="0.1">(3.54)</text>
</g>
<g id="p_photos">
<defs>
<filter id="bl8" x="-40%" y="-40%" width="180%" height="180%"><feGaussianBlur stdDeviation="16"/></filter>
<filter id="bl3" x="-30%" y="-30%" width="160%" height="160%"><feGaussianBlur stdDeviation="6"/></filter>
<filter id="bl1" x="-10%" y="-10%" width="120%" height="120%"><feGaussianBlur stdDeviation="2"/></filter>
<linearGradient id="gFace" x1="0" y1="0" x2="1" y2="1"><stop offset="0" stop-color="#3c3c42"/><stop offset="0.5" stop-color="#18181b"/><stop offset="1" stop-color="#2c2c31"/></linearGradient>
<linearGradient id="gTip" x1="0" y1="0" x2="1" y2="1"><stop offset="0" stop-color="#a2a2a4"/><stop offset="1" stop-color="#505052"/></linearGradient>
<linearGradient id="gRod" x1="0" y1="0" x2="0.4" y2="1"><stop offset="0" stop-color="#8d9399"/><stop offset="0.45" stop-color="#e6e9ec"/><stop offset="1" stop-color="#6f757b"/></linearGradient>
<radialGradient id="gRed" cx="0.45" cy="0.45" r="0.6"><stop offset="0" stop-color="#a80f15"/><stop offset="0.55" stop-color="#d41820"/><stop offset="1" stop-color="#ee2c34"/></radialGradient>
<radialGradient id="gRed2" cx="0.5" cy="0.55" r="0.6"><stop offset="0" stop-color="#ff4238"/><stop offset="0.6" stop-color="#e8181e"/><stop offset="1" stop-color="#c01016"/></radialGradient>
<linearGradient id="gSh1" x1="0" y1="0" x2="1" y2="1"><stop offset="0" stop-color="#3a3a42"/><stop offset="0.4" stop-color="#141417"/><stop offset="1" stop-color="#060607"/></linearGradient>
<linearGradient id="gSh2" x1="0" y1="0" x2="0.3" y2="1"><stop offset="0" stop-color="#34343b"/><stop offset="0.5" stop-color="#0e0e10"/><stop offset="1" stop-color="#060607"/></linearGradient>
<linearGradient id="gSh3" x1="0" y1="0.9" x2="0.8" y2="0.1"><stop offset="0" stop-color="#56535f"/><stop offset="0.3" stop-color="#2a2930"/><stop offset="0.6" stop-color="#0b0b0d"/><stop offset="1" stop-color="#050506"/></linearGradient>
<linearGradient id="gRing" x1="0" y1="0" x2="1" y2="1"><stop offset="0" stop-color="#77777b"/><stop offset="0.5" stop-color="#3e3e42"/><stop offset="1" stop-color="#5a5a5e"/></linearGradient>
<clipPath id="cp1"><rect x="0" y="0" width="800" height="800"/></clipPath>
</defs>
<rect x="10.00" y="150.30" width="205.20" height="204.30" fill="#fff"/>
<g transform="translate(10 150) scale(0.25750)" clip-path="url(#cp1)">
<ellipse cx="340" cy="615" rx="310" ry="55" fill="#c4c4c4" filter="url(#bl8)"/>
<ellipse cx="250" cy="630" rx="220" ry="30" fill="#8a8a8a" filter="url(#bl8)"/>
<ellipse cx="600" cy="390" rx="150" ry="50" fill="#e2e2e2" filter="url(#bl8)" transform="rotate(-30 600 390)"/>
<path d="M470 292 L548 246 L568 280 L500 326 Z" fill="url(#gRod)"/>
<path d="M505 330 C540 335 560 300 590 288" fill="none" stroke="#8d9399" stroke-width="8"/>
<path d="M505 330 C540 335 560 300 590 288" fill="none" stroke="#d8dbde" stroke-width="4"/>
<ellipse cx="560.0" cy="284.0" rx="11" ry="44" transform="rotate(-30.1 560.0 284.0)" fill="none" stroke="#555a60" stroke-width="9"/>
<ellipse cx="560.0" cy="284.0" rx="11" ry="44" transform="rotate(-30.1 560.0 284.0)" fill="none" stroke="#d0d3d6" stroke-width="6"/>
<ellipse cx="574.5" cy="275.6" rx="11" ry="44" transform="rotate(-30.1 574.5 275.6)" fill="none" stroke="#555a60" stroke-width="9"/>
<ellipse cx="574.5" cy="275.6" rx="11" ry="44" transform="rotate(-30.1 574.5 275.6)" fill="none" stroke="#d0d3d6" stroke-width="6"/>
<ellipse cx="589.0" cy="267.2" rx="11" ry="44" transform="rotate(-30.1 589.0 267.2)" fill="none" stroke="#555a60" stroke-width="9"/>
<ellipse cx="589.0" cy="267.2" rx="11" ry="44" transform="rotate(-30.1 589.0 267.2)" fill="none" stroke="#d0d3d6" stroke-width="6"/>
<ellipse cx="603.5" cy="258.8" rx="11" ry="44" transform="rotate(-30.1 603.5 258.8)" fill="none" stroke="#555a60" stroke-width="9"/>
<ellipse cx="603.5" cy="258.8" rx="11" ry="44" transform="rotate(-30.1 603.5 258.8)" fill="none" stroke="#d0d3d6" stroke-width="6"/>
<ellipse cx="618.0" cy="250.4" rx="11" ry="44" transform="rotate(-30.1 618.0 250.4)" fill="none" stroke="#555a60" stroke-width="9"/>
<ellipse cx="618.0" cy="250.4" rx="11" ry="44" transform="rotate(-30.1 618.0 250.4)" fill="none" stroke="#d0d3d6" stroke-width="6"/>
<ellipse cx="632.5" cy="242.0" rx="11" ry="44" transform="rotate(-30.1 632.5 242.0)" fill="none" stroke="#555a60" stroke-width="9"/>
<ellipse cx="632.5" cy="242.0" rx="11" ry="44" transform="rotate(-30.1 632.5 242.0)" fill="none" stroke="#d0d3d6" stroke-width="6"/>
<ellipse cx="647.0" cy="233.6" rx="11" ry="44" transform="rotate(-30.1 647.0 233.6)" fill="none" stroke="#555a60" stroke-width="9"/>
<ellipse cx="647.0" cy="233.6" rx="11" ry="44" transform="rotate(-30.1 647.0 233.6)" fill="none" stroke="#d0d3d6" stroke-width="6"/>
<ellipse cx="661.5" cy="225.2" rx="11" ry="44" transform="rotate(-30.1 661.5 225.2)" fill="none" stroke="#555a60" stroke-width="9"/>
<ellipse cx="661.5" cy="225.2" rx="11" ry="44" transform="rotate(-30.1 661.5 225.2)" fill="none" stroke="#d0d3d6" stroke-width="6"/>
<ellipse cx="676.0" cy="216.8" rx="11" ry="44" transform="rotate(-30.1 676.0 216.8)" fill="none" stroke="#555a60" stroke-width="9"/>
<ellipse cx="676.0" cy="216.8" rx="11" ry="44" transform="rotate(-30.1 676.0 216.8)" fill="none" stroke="#d0d3d6" stroke-width="6"/>
<ellipse cx="690.5" cy="208.4" rx="11" ry="44" transform="rotate(-30.1 690.5 208.4)" fill="none" stroke="#555a60" stroke-width="9"/>
<ellipse cx="690.5" cy="208.4" rx="11" ry="44" transform="rotate(-30.1 690.5 208.4)" fill="none" stroke="#d0d3d6" stroke-width="6"/>
<ellipse cx="705.0" cy="200.0" rx="11" ry="44" transform="rotate(-30.1 705.0 200.0)" fill="none" stroke="#555a60" stroke-width="9"/>
<ellipse cx="705.0" cy="200.0" rx="11" ry="44" transform="rotate(-30.1 705.0 200.0)" fill="none" stroke="#d0d3d6" stroke-width="6"/>
<path d="M685 200 C695 168 752 162 768 190 C775 206 750 218 722 206" fill="none" stroke="#7d8389" stroke-width="10"/>
<path d="M685 200 C695 168 752 162 768 190 C775 206 750 218 722 206" fill="none" stroke="#d4d8dc" stroke-width="5"/>
<path d="M55 345 C55 300 100 272 160 257 C200 247 245 248 265 268 L285 293 C310 286 335 288 356 300 C395 272 440 266 482 278 C512 286 524 304 523 335 L546 405 C560 440 555 510 520 538 C490 552 450 548 425 528 L410 520 L410 600 C400 628 340 628 330 600 L330 515 L285 500 L280 548 L262 586 L125 642 C90 652 48 640 40 600 C35 560 38 520 45 505 C60 480 90 465 105 458 C70 440 55 400 55 345 Z" fill="#0a0a0c"/>
<path d="M90 300 C130 268 200 252 250 262" fill="none" stroke="#2f2f35" stroke-width="14" filter="url(#bl3)"/>
<path d="M375 292 C420 270 470 272 505 295" fill="none" stroke="#34343b" stroke-width="12" filter="url(#bl3)"/>
<path d="M300 300 L345 305 L360 430 L300 460 Z" fill="#16161a" filter="url(#bl1)"/>
<path d="M76 322 C100 310 140 335 174 372 C200 398 240 396 260 424 C272 442 280 462 284 490" fill="none" stroke="#4a4a52" stroke-width="5"/>
<ellipse cx="111" cy="397" rx="36" ry="46" fill="#5f6468" transform="rotate(-18 111 397)"/>
<ellipse cx="113" cy="399" rx="28" ry="36" fill="#d2212a" transform="rotate(-18 113 399)"/>
<ellipse cx="115" cy="401" rx="18" ry="26" fill="#8c1016" transform="rotate(-18 115 401)"/>
<path d="M359 306 C385 280 430 268 476 296 C500 320 510 360 534 398 C500 400 440 440 425 528 C395 500 378 460 372 430 C360 390 355 340 359 306 Z" fill="url(#gSh3)"/>
<ellipse cx="488" cy="471" rx="62" ry="79" fill="url(#gRing)" transform="rotate(-14 488 471)"/>
<ellipse cx="490" cy="474" rx="43" ry="54" fill="#a9abae" transform="rotate(-14 490 474)"/>
<ellipse cx="491" cy="476" rx="30" ry="37" fill="url(#gRed2)" transform="rotate(-14 491 476)"/>
<ellipse cx="492" cy="478" rx="18" ry="24" fill="#8f1015" transform="rotate(-14 492 478)"/>
<path d="M118 456.0 C140 496.0 154 566.0 138 628.0" fill="none" stroke="#202024" stroke-width="5"/>
<path d="M139 450.5 C161 490.5 175 560.5 159 622.5" fill="none" stroke="#202024" stroke-width="5"/>
<path d="M160 445.0 C182 485.0 196 555.0 180 617.0" fill="none" stroke="#202024" stroke-width="5"/>
<path d="M181 439.5 C203 479.5 217 549.5 201 611.5" fill="none" stroke="#202024" stroke-width="5"/>
<path d="M202 434.0 C224 474.0 238 544.0 222 606.0" fill="none" stroke="#202024" stroke-width="5"/>
<path d="M223 428.5 C245 468.5 259 538.5 243 600.5" fill="none" stroke="#202024" stroke-width="5"/>
<path d="M244 423.0 C266 463.0 280 533.0 264 595.0" fill="none" stroke="#202024" stroke-width="5"/>
<ellipse cx="72" cy="566" rx="27" ry="40" fill="url(#gTip)" transform="rotate(-18 72 566)"/>
<ellipse cx="370" cy="522" rx="40" ry="19" fill="#37373c"/>
</g>
<rect x="10.00" y="150.30" width="205.20" height="204.30" fill="none" stroke="#5a5a5a" stroke-width="1.1"/>
<rect x="10.00" y="651.60" width="205.20" height="204.60" fill="#fff"/>
<g transform="translate(10 651) scale(0.25750)" clip-path="url(#cp1)">
<ellipse cx="340" cy="600" rx="300" ry="50" fill="#cacaca" filter="url(#bl8)"/>
<ellipse cx="260" cy="600" rx="210" ry="28" fill="#909090" filter="url(#bl8)"/>
<ellipse cx="640" cy="380" rx="130" ry="50" fill="#e2e2e2" filter="url(#bl8)" transform="rotate(-30 640 380)"/>
<path d="M540 270 L585 250 L602 300 L565 312 Z" fill="#b4b9be"/>
<ellipse cx="592.0" cy="262.0" rx="8" ry="34" transform="rotate(-26.2 592.0 262.0)" fill="none" stroke="#555a60" stroke-width="7"/>
<ellipse cx="592.0" cy="262.0" rx="8" ry="34" transform="rotate(-26.2 592.0 262.0)" fill="none" stroke="#d0d3d6" stroke-width="4"/>
<ellipse cx="603.8" cy="256.2" rx="8" ry="34" transform="rotate(-26.2 603.8 256.2)" fill="none" stroke="#555a60" stroke-width="7"/>
<ellipse cx="603.8" cy="256.2" rx="8" ry="34" transform="rotate(-26.2 603.8 256.2)" fill="none" stroke="#d0d3d6" stroke-width="4"/>
<ellipse cx="615.6" cy="250.4" rx="8" ry="34" transform="rotate(-26.2 615.6 250.4)" fill="none" stroke="#555a60" stroke-width="7"/>
<ellipse cx="615.6" cy="250.4" rx="8" ry="34" transform="rotate(-26.2 615.6 250.4)" fill="none" stroke="#d0d3d6" stroke-width="4"/>
<ellipse cx="627.5" cy="244.5" rx="8" ry="34" transform="rotate(-26.2 627.5 244.5)" fill="none" stroke="#555a60" stroke-width="7"/>
<ellipse cx="627.5" cy="244.5" rx="8" ry="34" transform="rotate(-26.2 627.5 244.5)" fill="none" stroke="#d0d3d6" stroke-width="4"/>
<ellipse cx="639.3" cy="238.7" rx="8" ry="34" transform="rotate(-26.2 639.3 238.7)" fill="none" stroke="#555a60" stroke-width="7"/>
<ellipse cx="639.3" cy="238.7" rx="8" ry="34" transform="rotate(-26.2 639.3 238.7)" fill="none" stroke="#d0d3d6" stroke-width="4"/>
<ellipse cx="651.1" cy="232.9" rx="8" ry="34" transform="rotate(-26.2 651.1 232.9)" fill="none" stroke="#555a60" stroke-width="7"/>
<ellipse cx="651.1" cy="232.9" rx="8" ry="34" transform="rotate(-26.2 651.1 232.9)" fill="none" stroke="#d0d3d6" stroke-width="4"/>
<ellipse cx="662.9" cy="227.1" rx="8" ry="34" transform="rotate(-26.2 662.9 227.1)" fill="none" stroke="#555a60" stroke-width="7"/>
<ellipse cx="662.9" cy="227.1" rx="8" ry="34" transform="rotate(-26.2 662.9 227.1)" fill="none" stroke="#d0d3d6" stroke-width="4"/>
<ellipse cx="674.7" cy="221.3" rx="8" ry="34" transform="rotate(-26.2 674.7 221.3)" fill="none" stroke="#555a60" stroke-width="7"/>
<ellipse cx="674.7" cy="221.3" rx="8" ry="34" transform="rotate(-26.2 674.7 221.3)" fill="none" stroke="#d0d3d6" stroke-width="4"/>
<ellipse cx="686.5" cy="215.5" rx="8" ry="34" transform="rotate(-26.2 686.5 215.5)" fill="none" stroke="#555a60" stroke-width="7"/>
<ellipse cx="686.5" cy="215.5" rx="8" ry="34" transform="rotate(-26.2 686.5 215.5)" fill="none" stroke="#d0d3d6" stroke-width="4"/>
<ellipse cx="698.4" cy="209.6" rx="8" ry="34" transform="rotate(-26.2 698.4 209.6)" fill="none" stroke="#555a60" stroke-width="7"/>
<ellipse cx="698.4" cy="209.6" rx="8" ry="34" transform="rotate(-26.2 698.4 209.6)" fill="none" stroke="#d0d3d6" stroke-width="4"/>
<ellipse cx="710.2" cy="203.8" rx="8" ry="34" transform="rotate(-26.2 710.2 203.8)" fill="none" stroke="#555a60" stroke-width="7"/>
<ellipse cx="710.2" cy="203.8" rx="8" ry="34" transform="rotate(-26.2 710.2 203.8)" fill="none" stroke="#d0d3d6" stroke-width="4"/>
<ellipse cx="722.0" cy="198.0" rx="8" ry="34" transform="rotate(-26.2 722.0 198.0)" fill="none" stroke="#555a60" stroke-width="7"/>
<ellipse cx="722.0" cy="198.0" rx="8" ry="34" transform="rotate(-26.2 722.0 198.0)" fill="none" stroke="#d0d3d6" stroke-width="4"/>
<path d="M708 192 C716 168 748 170 753 190 C755 206 736 213 718 206" fill="none" stroke="#8e949a" stroke-width="9"/>
<path d="M708 192 C716 168 748 170 753 190 C755 206 736 213 718 206" fill="none" stroke="#dfe2e5" stroke-width="5"/>
<path d="M150 335 C148 270 195 222 255 214 C300 209 332 228 345 250 L392 252 C420 213 500 210 542 250 L560 300 C590 310 620 340 632 370 C645 420 640 490 615 525 C590 545 540 555 510 540 L470 520 L450 530 L450 610 C440 628 400 628 392 610 L392 540 L340 548 C310 556 292 548 285 540 L282 548 L130 622 C95 634 52 622 45 585 C42 560 45 540 50 530 C62 505 95 492 125 482 L186 432 L197 418 C180 405 160 385 152 362 L150 335 Z" fill="#0a0a0c"/>
<path d="M150 335 C148 270 195 222 255 214 C300 209 332 228 345 252 L330 300 L230 350 L215 410 C175 400 152 375 150 335 Z" fill="url(#gSh1)"/>
<path d="M228 345 L392 254 C420 214 500 211 542 250 L562 302 C520 300 460 320 440 360 L430 440 L400 520 L330 530 C300 500 290 440 300 400 Z" fill="url(#gSh2)"/>
<path d="M238 362 C275 340 335 308 398 270" fill="none" stroke="#45454e" stroke-width="22" filter="url(#bl3)"/>
<path d="M405 250 C435 224 500 224 530 255" fill="none" stroke="#3a3a41" stroke-width="12" filter="url(#bl3)"/>
<path d="M436 345 C450 305 520 296 560 312 C592 322 620 345 632 372 C600 360 520 380 500 470 C495 500 500 520 510 540 C470 525 440 500 432 450 Z" fill="url(#gSh3)"/>
<path d="M455 330 C490 305 560 310 600 340" fill="none" stroke="#2c2c32" stroke-width="12" filter="url(#bl3)"/>
<path d="M178 385 C205 402 245 392 280 368 L292 398 C262 428 215 432 190 416 Z" fill="#8e9296"/>
<path d="M200 428 C250 425 300 480 290 540 L262 552 C268 492 245 448 205 440 Z" fill="#050506"/>
<path d="M250 548 C280 560 320 556 345 548" fill="none" stroke="#8a8e92" stroke-width="7"/>
<path d="M110 488 C130 523 140 578 128 624" fill="none" stroke="#222226" stroke-width="5"/>
<path d="M129 481 C149 516 159 571 147 617" fill="none" stroke="#222226" stroke-width="5"/>
<path d="M148 474 C168 509 178 564 166 610" fill="none" stroke="#222226" stroke-width="5"/>
<path d="M167 467 C187 502 197 557 185 603" fill="none" stroke="#222226" stroke-width="5"/>
<path d="M186 460 C206 495 216 550 204 596" fill="none" stroke="#222226" stroke-width="5"/>
<path d="M205 453 C225 488 235 543 223 589" fill="none" stroke="#222226" stroke-width="5"/>
<path d="M224 446 C244 481 254 536 242 582" fill="none" stroke="#222226" stroke-width="5"/>
<ellipse cx="70" cy="578" rx="22" ry="31" fill="#dfe1df" transform="rotate(-18 70 578)"/>
<ellipse cx="65" cy="571" rx="13" ry="19" fill="#f8faf8" transform="rotate(-18 65 571)"/>
<ellipse cx="566" cy="448" rx="66" ry="86" fill="#101013" transform="rotate(-12 566 448)"/>
<ellipse cx="567" cy="450" rx="52" ry="68" fill="#9da0a4" transform="rotate(-12 567 450)"/>
<ellipse cx="567" cy="450" rx="42" ry="55" fill="url(#gRed2)" transform="rotate(-12 567 450)"/>
<ellipse cx="563" cy="444" rx="26" ry="36" fill="#dc1820" transform="rotate(-12 563 444)"/>
<path d="M380 498 L470 488 L476 524 L450 530 L392 536 L380 530 Z" fill="#0f0f11"/>
<ellipse cx="418" cy="505" rx="16" ry="8" fill="#5a5a60"/>
</g>
<rect x="10.00" y="651.60" width="205.20" height="204.60" fill="none" stroke="#2e2e2e" stroke-width="1.1"/>
</g>
</svg>
</body></html>
